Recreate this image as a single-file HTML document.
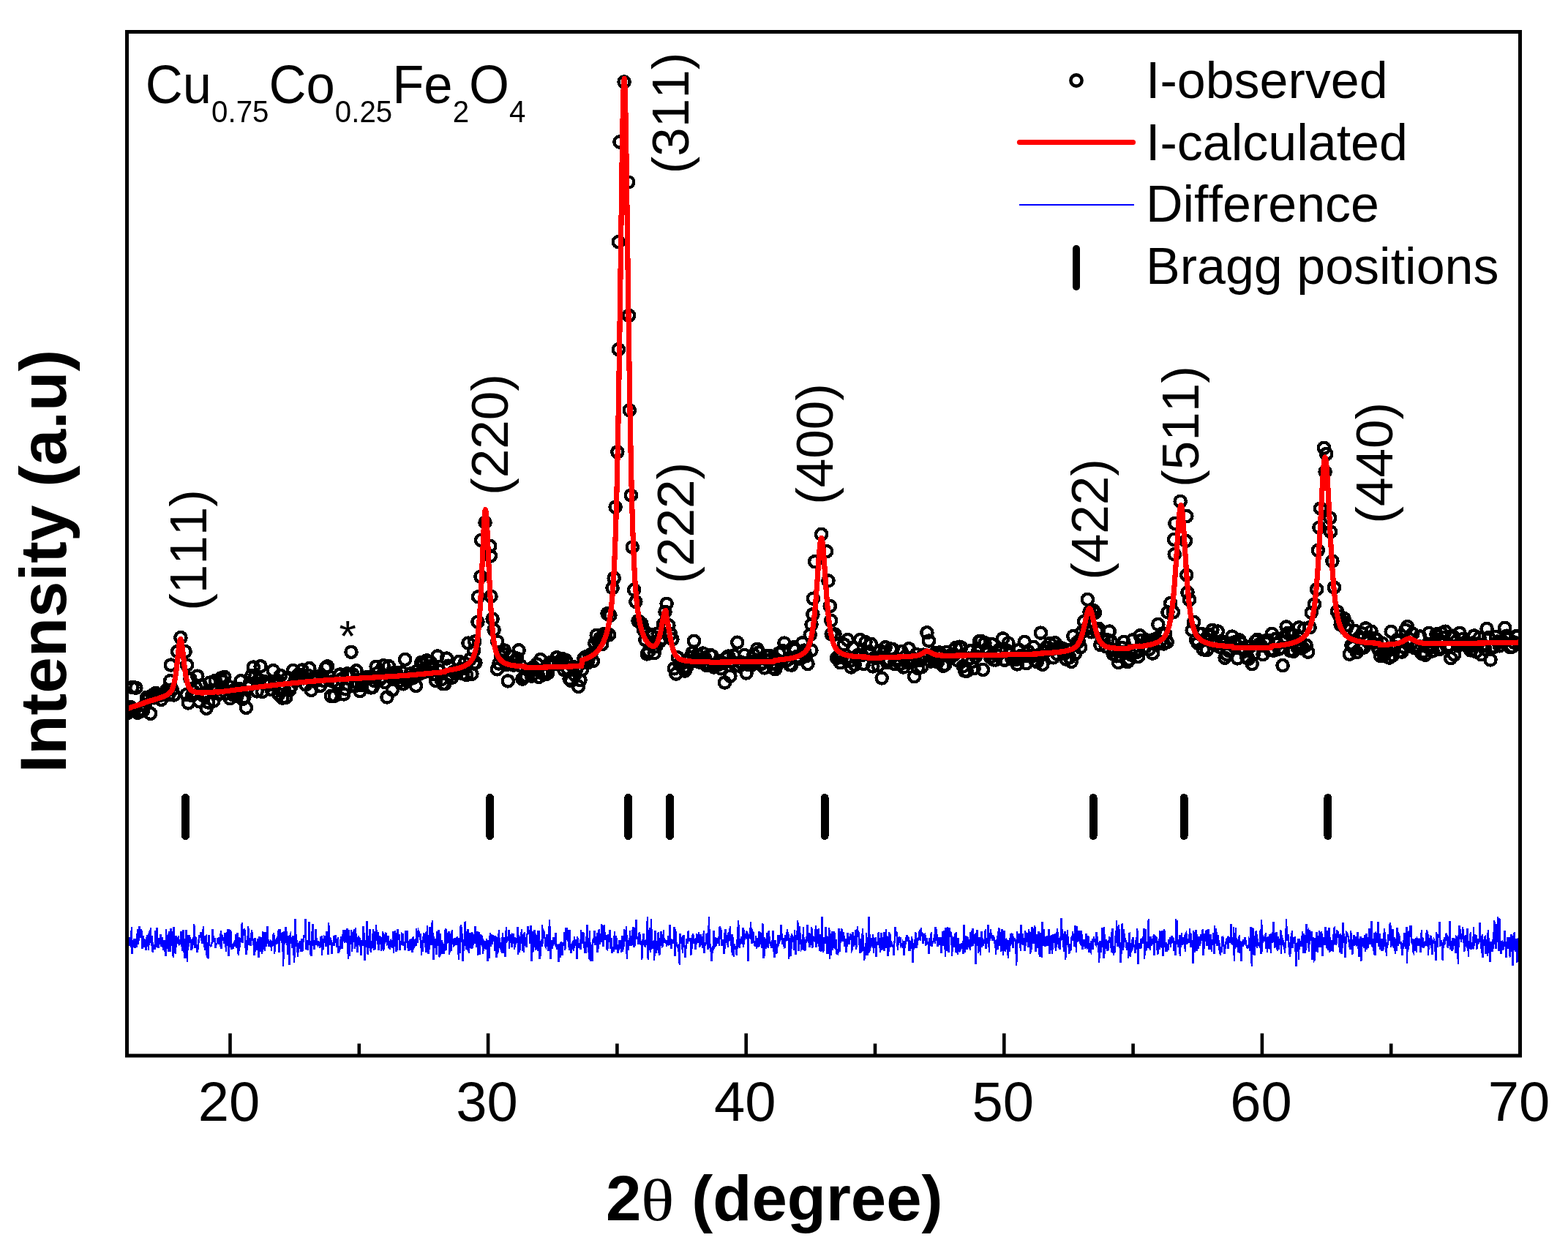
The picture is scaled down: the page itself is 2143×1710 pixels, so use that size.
<!DOCTYPE html>
<html><head><meta charset="utf-8"><title>XRD Rietveld refinement</title>
<style>
html,body{margin:0;padding:0;background:#fff;}
body{width:2143px;height:1710px;overflow:hidden;}
svg{display:block;}
text{font-family:"Liberation Sans",sans-serif;fill:#000;font-kerning:none;font-feature-settings:"kern" 0;}
</style></head><body>
<svg width="2143" height="1710" viewBox="0 0 2143 1710">
<defs><clipPath id="pa"><rect x="173.5" y="43.5" width="1904" height="1399.5"/></clipPath></defs>
<rect width="2143" height="1710" fill="#fff"/>
<g clip-path="url(#pa)" shape-rendering="crispEdges">
<g fill="none" stroke="#000" stroke-width="4.4"><circle cx="173.5" cy="975.2" r="7.6"/><circle cx="176" cy="970.5" r="7.6"/><circle cx="178.4" cy="966.4" r="7.6"/><circle cx="180.9" cy="939.6" r="7.6"/><circle cx="183.4" cy="970.4" r="7.6"/><circle cx="185.8" cy="940.2" r="7.6"/><circle cx="188.3" cy="974.3" r="7.6"/><circle cx="190.8" cy="970" r="7.6"/><circle cx="193.2" cy="971.9" r="7.6"/><circle cx="195.7" cy="971.1" r="7.6"/><circle cx="198.2" cy="963.6" r="7.6"/><circle cx="200.6" cy="953.3" r="7.6"/><circle cx="203.1" cy="955.1" r="7.6"/><circle cx="205.6" cy="975.3" r="7.6"/><circle cx="208.1" cy="950.5" r="7.6"/><circle cx="210.5" cy="953.8" r="7.6"/><circle cx="213" cy="947.4" r="7.6"/><circle cx="215.5" cy="949" r="7.6"/><circle cx="217.9" cy="950.7" r="7.6"/><circle cx="220.4" cy="956.3" r="7.6"/><circle cx="222.9" cy="949.1" r="7.6"/><circle cx="225.3" cy="947.3" r="7.6"/><circle cx="227.8" cy="943.1" r="7.6"/><circle cx="230.3" cy="949.5" r="7.6"/><circle cx="232.7" cy="930.7" r="7.6"/><circle cx="233.4" cy="909" r="7.6"/><circle cx="235.2" cy="942.8" r="7.6"/><circle cx="237.7" cy="950" r="7.6"/><circle cx="242.6" cy="890.6" r="7.6"/><circle cx="246.9" cy="871.6" r="7.6"/><circle cx="253.1" cy="890.6" r="7.6"/><circle cx="254.9" cy="949.5" r="7.6"/><circle cx="255.5" cy="909" r="7.6"/><circle cx="257.4" cy="960.9" r="7.6"/><circle cx="259.9" cy="927.9" r="7.6"/><circle cx="262.4" cy="950.7" r="7.6"/><circle cx="264.8" cy="945.4" r="7.6"/><circle cx="267.3" cy="939.4" r="7.6"/><circle cx="269.8" cy="924.2" r="7.6"/><circle cx="272.2" cy="958.6" r="7.6"/><circle cx="274.7" cy="937" r="7.6"/><circle cx="277.2" cy="950.3" r="7.6"/><circle cx="279.6" cy="947.8" r="7.6"/><circle cx="282.1" cy="968.3" r="7.6"/><circle cx="284.6" cy="960.1" r="7.6"/><circle cx="287" cy="933.1" r="7.6"/><circle cx="289.5" cy="943.2" r="7.6"/><circle cx="292" cy="958" r="7.6"/><circle cx="294.4" cy="930.5" r="7.6"/><circle cx="296.9" cy="941.7" r="7.6"/><circle cx="299.4" cy="948.5" r="7.6"/><circle cx="301.8" cy="927" r="7.6"/><circle cx="304.3" cy="931.1" r="7.6"/><circle cx="306.8" cy="925.4" r="7.6"/><circle cx="309.2" cy="948" r="7.6"/><circle cx="311.7" cy="937.9" r="7.6"/><circle cx="314.2" cy="954.7" r="7.6"/><circle cx="316.7" cy="945" r="7.6"/><circle cx="319.1" cy="950" r="7.6"/><circle cx="321.6" cy="942.1" r="7.6"/><circle cx="324.1" cy="951.4" r="7.6"/><circle cx="326.5" cy="941.3" r="7.6"/><circle cx="329" cy="930.8" r="7.6"/><circle cx="331.5" cy="955.4" r="7.6"/><circle cx="333.9" cy="952.8" r="7.6"/><circle cx="336.4" cy="967.3" r="7.6"/><circle cx="338.9" cy="939.3" r="7.6"/><circle cx="341.3" cy="933.9" r="7.6"/><circle cx="343.8" cy="923.6" r="7.6"/><circle cx="346.3" cy="912" r="7.6"/><circle cx="348.7" cy="924.6" r="7.6"/><circle cx="351.2" cy="944.9" r="7.6"/><circle cx="353.7" cy="928.9" r="7.6"/><circle cx="356.1" cy="910.7" r="7.6"/><circle cx="358.6" cy="945.4" r="7.6"/><circle cx="361.1" cy="931.3" r="7.6"/><circle cx="363.5" cy="933.7" r="7.6"/><circle cx="366" cy="932.6" r="7.6"/><circle cx="368.5" cy="935.7" r="7.6"/><circle cx="371" cy="942.4" r="7.6"/><circle cx="373.4" cy="916.7" r="7.6"/><circle cx="375.9" cy="933.8" r="7.6"/><circle cx="378.4" cy="930.3" r="7.6"/><circle cx="380.8" cy="948.9" r="7.6"/><circle cx="383.3" cy="923.6" r="7.6"/><circle cx="385.8" cy="954.1" r="7.6"/><circle cx="388.2" cy="942" r="7.6"/><circle cx="390.7" cy="953.4" r="7.6"/><circle cx="393.2" cy="926.4" r="7.6"/><circle cx="395.6" cy="943.5" r="7.6"/><circle cx="398.1" cy="938.1" r="7.6"/><circle cx="400.6" cy="916.5" r="7.6"/><circle cx="403" cy="930.4" r="7.6"/><circle cx="405.5" cy="928" r="7.6"/><circle cx="408" cy="921.9" r="7.6"/><circle cx="410.4" cy="923.9" r="7.6"/><circle cx="412.9" cy="915.9" r="7.6"/><circle cx="415.4" cy="926.9" r="7.6"/><circle cx="417.8" cy="935.9" r="7.6"/><circle cx="420.3" cy="922.9" r="7.6"/><circle cx="422.8" cy="913.6" r="7.6"/><circle cx="425.3" cy="943.4" r="7.6"/><circle cx="427.7" cy="926.9" r="7.6"/><circle cx="430.2" cy="931.3" r="7.6"/><circle cx="432.7" cy="928.1" r="7.6"/><circle cx="435.1" cy="924.4" r="7.6"/><circle cx="437.6" cy="937.3" r="7.6"/><circle cx="440.1" cy="924.1" r="7.6"/><circle cx="442.5" cy="930.4" r="7.6"/><circle cx="445" cy="913.3" r="7.6"/><circle cx="447.5" cy="910.9" r="7.6"/><circle cx="449.9" cy="925.1" r="7.6"/><circle cx="452.4" cy="951.3" r="7.6"/><circle cx="454.9" cy="931.3" r="7.6"/><circle cx="457.3" cy="951.3" r="7.6"/><circle cx="459.8" cy="934.1" r="7.6"/><circle cx="462.3" cy="934" r="7.6"/><circle cx="464.7" cy="921.9" r="7.6"/><circle cx="467.2" cy="928.2" r="7.6"/><circle cx="469.7" cy="948.9" r="7.6"/><circle cx="472.1" cy="941.8" r="7.6"/><circle cx="474.6" cy="920.8" r="7.6"/><circle cx="477.1" cy="922.5" r="7.6"/><circle cx="480" cy="891.3" r="7.6"/><circle cx="482" cy="921.7" r="7.6"/><circle cx="484.5" cy="938" r="7.6"/><circle cx="487" cy="916.8" r="7.6"/><circle cx="489.4" cy="934.4" r="7.6"/><circle cx="491.9" cy="944.6" r="7.6"/><circle cx="494.4" cy="936.5" r="7.6"/><circle cx="496.8" cy="929.6" r="7.6"/><circle cx="499.3" cy="928.2" r="7.6"/><circle cx="501.8" cy="925.5" r="7.6"/><circle cx="504.2" cy="926.1" r="7.6"/><circle cx="506.7" cy="939.8" r="7.6"/><circle cx="509.2" cy="939.4" r="7.6"/><circle cx="511.6" cy="930.6" r="7.6"/><circle cx="514.1" cy="911.3" r="7.6"/><circle cx="516.6" cy="919.7" r="7.6"/><circle cx="519" cy="928.9" r="7.6"/><circle cx="521.5" cy="926" r="7.6"/><circle cx="524" cy="909.7" r="7.6"/><circle cx="526.4" cy="932.7" r="7.6"/><circle cx="528.9" cy="952.9" r="7.6"/><circle cx="531.4" cy="910.7" r="7.6"/><circle cx="533.8" cy="925.4" r="7.6"/><circle cx="536.3" cy="943.1" r="7.6"/><circle cx="538.8" cy="919.5" r="7.6"/><circle cx="541.3" cy="919.5" r="7.6"/><circle cx="543.7" cy="926" r="7.6"/><circle cx="546.2" cy="930.4" r="7.6"/><circle cx="548.7" cy="918.9" r="7.6"/><circle cx="551.1" cy="934.8" r="7.6"/><circle cx="553.6" cy="901.4" r="7.6"/><circle cx="556.1" cy="930.7" r="7.6"/><circle cx="558.5" cy="927.2" r="7.6"/><circle cx="561" cy="920.9" r="7.6"/><circle cx="563.5" cy="927" r="7.6"/><circle cx="565.9" cy="922.9" r="7.6"/><circle cx="568.4" cy="937.4" r="7.6"/><circle cx="570.9" cy="916.6" r="7.6"/><circle cx="573.3" cy="921.2" r="7.6"/><circle cx="575.8" cy="905.5" r="7.6"/><circle cx="578.3" cy="908.3" r="7.6"/><circle cx="580.7" cy="918.2" r="7.6"/><circle cx="583.2" cy="902.8" r="7.6"/><circle cx="585.7" cy="910.8" r="7.6"/><circle cx="588.1" cy="905" r="7.6"/><circle cx="590.6" cy="914.4" r="7.6"/><circle cx="593.1" cy="921.2" r="7.6"/><circle cx="595.6" cy="930.4" r="7.6"/><circle cx="598" cy="897" r="7.6"/><circle cx="600.5" cy="916.9" r="7.6"/><circle cx="603" cy="928.9" r="7.6"/><circle cx="605.4" cy="934.6" r="7.6"/><circle cx="607.9" cy="934.7" r="7.6"/><circle cx="610.4" cy="900" r="7.6"/><circle cx="612.8" cy="910.2" r="7.6"/><circle cx="615.3" cy="922.2" r="7.6"/><circle cx="617.8" cy="926.1" r="7.6"/><circle cx="620.2" cy="918.1" r="7.6"/><circle cx="622.7" cy="917.4" r="7.6"/><circle cx="625.2" cy="916.5" r="7.6"/><circle cx="627.6" cy="904.3" r="7.6"/><circle cx="630.1" cy="914.2" r="7.6"/><circle cx="632.6" cy="920.7" r="7.6"/><circle cx="635" cy="906.4" r="7.6"/><circle cx="637.5" cy="922.4" r="7.6"/><circle cx="640" cy="879.1" r="7.6"/><circle cx="642.4" cy="901.1" r="7.6"/><circle cx="644.9" cy="921.2" r="7.6"/><circle cx="647.4" cy="907" r="7.6"/><circle cx="647.5" cy="889.2" r="7.6"/><circle cx="648.8" cy="877" r="7.6"/><circle cx="649.9" cy="905.9" r="7.6"/><circle cx="652.9" cy="850.2" r="7.6"/><circle cx="653.6" cy="815.8" r="7.6"/><circle cx="656.9" cy="788.3" r="7.6"/><circle cx="657.6" cy="738.5" r="7.6"/><circle cx="663" cy="714.2" r="7.6"/><circle cx="669.7" cy="746.5" r="7.6"/><circle cx="670.4" cy="760" r="7.6"/><circle cx="671" cy="815.2" r="7.6"/><circle cx="673.1" cy="846.1" r="7.6"/><circle cx="675.1" cy="861" r="7.6"/><circle cx="679.5" cy="914.7" r="7.6"/><circle cx="679.8" cy="877" r="7.6"/><circle cx="681.9" cy="907" r="7.6"/><circle cx="684.4" cy="897.1" r="7.6"/><circle cx="686.9" cy="893.2" r="7.6"/><circle cx="689.3" cy="888.9" r="7.6"/><circle cx="691.8" cy="908.7" r="7.6"/><circle cx="694.3" cy="930.9" r="7.6"/><circle cx="696.7" cy="907" r="7.6"/><circle cx="699.2" cy="897.5" r="7.6"/><circle cx="701.7" cy="909.1" r="7.6"/><circle cx="704.2" cy="904.2" r="7.6"/><circle cx="706.6" cy="900" r="7.6"/><circle cx="709.1" cy="888.8" r="7.6"/><circle cx="711.6" cy="910.1" r="7.6"/><circle cx="714" cy="928" r="7.6"/><circle cx="716.5" cy="925.1" r="7.6"/><circle cx="719" cy="924.2" r="7.6"/><circle cx="721.4" cy="915.2" r="7.6"/><circle cx="723.9" cy="918.1" r="7.6"/><circle cx="726.4" cy="924.2" r="7.6"/><circle cx="728.8" cy="911.9" r="7.6"/><circle cx="731.3" cy="915.7" r="7.6"/><circle cx="733.8" cy="907.8" r="7.6"/><circle cx="736.2" cy="925.4" r="7.6"/><circle cx="738.7" cy="901.6" r="7.6"/><circle cx="741.2" cy="920" r="7.6"/><circle cx="743.6" cy="922" r="7.6"/><circle cx="746.1" cy="921.7" r="7.6"/><circle cx="748.6" cy="920.2" r="7.6"/><circle cx="751" cy="906.6" r="7.6"/><circle cx="753.5" cy="905.4" r="7.6"/><circle cx="756" cy="907" r="7.6"/><circle cx="758.5" cy="907.4" r="7.6"/><circle cx="760.9" cy="898.7" r="7.6"/><circle cx="763.4" cy="906.4" r="7.6"/><circle cx="765.9" cy="904.2" r="7.6"/><circle cx="768.3" cy="900.5" r="7.6"/><circle cx="770.8" cy="915.5" r="7.6"/><circle cx="773.3" cy="902.6" r="7.6"/><circle cx="775.7" cy="914.1" r="7.6"/><circle cx="778.2" cy="928.1" r="7.6"/><circle cx="780.7" cy="930.5" r="7.6"/><circle cx="783.1" cy="911.3" r="7.6"/><circle cx="785.6" cy="922.7" r="7.6"/><circle cx="788.1" cy="913.8" r="7.6"/><circle cx="790.5" cy="938.4" r="7.6"/><circle cx="793" cy="929.7" r="7.6"/><circle cx="795.5" cy="915.4" r="7.6"/><circle cx="797.9" cy="899.9" r="7.6"/><circle cx="800.4" cy="897.9" r="7.6"/><circle cx="802.9" cy="906.1" r="7.6"/><circle cx="805.3" cy="898.2" r="7.6"/><circle cx="807.8" cy="894.4" r="7.6"/><circle cx="810.3" cy="903.6" r="7.6"/><circle cx="812.8" cy="879.3" r="7.6"/><circle cx="815.2" cy="868.4" r="7.6"/><circle cx="817.7" cy="877.1" r="7.6"/><circle cx="820.2" cy="872.3" r="7.6"/><circle cx="822.6" cy="880.7" r="7.6"/><circle cx="825.1" cy="866.7" r="7.6"/><circle cx="827.6" cy="868.1" r="7.6"/><circle cx="830" cy="838.7" r="7.6"/><circle cx="832.5" cy="867.7" r="7.6"/><circle cx="833.9" cy="841.3" r="7.6"/><circle cx="837.1" cy="803.6" r="7.6"/><circle cx="839.2" cy="790.2" r="7.6"/><circle cx="841.1" cy="693.2" r="7.6"/><circle cx="843.8" cy="617.8" r="7.6"/><circle cx="845.3" cy="330.6" r="7.6"/><circle cx="845.4" cy="477.7" r="7.6"/><circle cx="847" cy="194" r="7.6"/><circle cx="853.1" cy="112" r="7.6"/><circle cx="858.8" cy="249" r="7.6"/><circle cx="859.5" cy="431.3" r="7.6"/><circle cx="860.3" cy="560.7" r="7.6"/><circle cx="862.4" cy="677" r="7.6"/><circle cx="864.3" cy="747.9" r="7.6"/><circle cx="866.7" cy="806.3" r="7.6"/><circle cx="868.9" cy="822.5" r="7.6"/><circle cx="872" cy="848.7" r="7.6"/><circle cx="874.5" cy="850.6" r="7.6"/><circle cx="876.9" cy="852.6" r="7.6"/><circle cx="879.4" cy="860.9" r="7.6"/><circle cx="881.9" cy="874.6" r="7.6"/><circle cx="884.3" cy="893.9" r="7.6"/><circle cx="886.8" cy="890.2" r="7.6"/><circle cx="889.3" cy="867.4" r="7.6"/><circle cx="891.7" cy="869.3" r="7.6"/><circle cx="894.2" cy="892.7" r="7.6"/><circle cx="896.7" cy="883.6" r="7.6"/><circle cx="899.1" cy="866" r="7.6"/><circle cx="901.6" cy="876.8" r="7.6"/><circle cx="904.1" cy="873.1" r="7.6"/><circle cx="906.5" cy="853.1" r="7.6"/><circle cx="909" cy="836.3" r="7.6"/><circle cx="911.1" cy="825.3" r="7.6"/><circle cx="913.9" cy="854.8" r="7.6"/><circle cx="916.4" cy="866.4" r="7.6"/><circle cx="918.9" cy="873.7" r="7.6"/><circle cx="921.3" cy="913.8" r="7.6"/><circle cx="923.8" cy="921.1" r="7.6"/><circle cx="926.3" cy="898.8" r="7.6"/><circle cx="928.8" cy="907.8" r="7.6"/><circle cx="931.2" cy="907.2" r="7.6"/><circle cx="933.7" cy="913.6" r="7.6"/><circle cx="936.2" cy="917.1" r="7.6"/><circle cx="938.6" cy="911.5" r="7.6"/><circle cx="941.1" cy="902.9" r="7.6"/><circle cx="943.6" cy="898.2" r="7.6"/><circle cx="946" cy="892.6" r="7.6"/><circle cx="948.5" cy="876.3" r="7.6"/><circle cx="951" cy="903.5" r="7.6"/><circle cx="953.4" cy="895.1" r="7.6"/><circle cx="955.9" cy="905.1" r="7.6"/><circle cx="958.4" cy="903.6" r="7.6"/><circle cx="960.8" cy="893" r="7.6"/><circle cx="963.3" cy="899.1" r="7.6"/><circle cx="965.8" cy="909.7" r="7.6"/><circle cx="968.2" cy="906.9" r="7.6"/><circle cx="970.7" cy="895.3" r="7.6"/><circle cx="973.2" cy="896.7" r="7.6"/><circle cx="975.6" cy="912" r="7.6"/><circle cx="978.1" cy="908.1" r="7.6"/><circle cx="980.6" cy="908.9" r="7.6"/><circle cx="983.1" cy="903.4" r="7.6"/><circle cx="985.5" cy="913.8" r="7.6"/><circle cx="988" cy="906.3" r="7.6"/><circle cx="990.5" cy="933" r="7.6"/><circle cx="992.9" cy="899.7" r="7.6"/><circle cx="995.4" cy="897" r="7.6"/><circle cx="997.9" cy="924.2" r="7.6"/><circle cx="1000.3" cy="904.2" r="7.6"/><circle cx="1002.8" cy="896" r="7.6"/><circle cx="1005.3" cy="910" r="7.6"/><circle cx="1007.7" cy="878.2" r="7.6"/><circle cx="1010.2" cy="910.1" r="7.6"/><circle cx="1012.7" cy="905.1" r="7.6"/><circle cx="1015.1" cy="907.9" r="7.6"/><circle cx="1017.6" cy="895.5" r="7.6"/><circle cx="1020.1" cy="919.9" r="7.6"/><circle cx="1022.5" cy="908.4" r="7.6"/><circle cx="1025" cy="904.5" r="7.6"/><circle cx="1027.5" cy="908.9" r="7.6"/><circle cx="1029.9" cy="895" r="7.6"/><circle cx="1032.4" cy="903.1" r="7.6"/><circle cx="1034.9" cy="887.3" r="7.6"/><circle cx="1037.4" cy="891.8" r="7.6"/><circle cx="1039.8" cy="907.9" r="7.6"/><circle cx="1042.3" cy="905.8" r="7.6"/><circle cx="1044.8" cy="912.9" r="7.6"/><circle cx="1047.2" cy="896.7" r="7.6"/><circle cx="1049.7" cy="903" r="7.6"/><circle cx="1052.2" cy="896.3" r="7.6"/><circle cx="1054.6" cy="907.1" r="7.6"/><circle cx="1057.1" cy="913.1" r="7.6"/><circle cx="1059.6" cy="914.7" r="7.6"/><circle cx="1062" cy="908.8" r="7.6"/><circle cx="1064.5" cy="892.9" r="7.6"/><circle cx="1067" cy="904.2" r="7.6"/><circle cx="1069.4" cy="889.6" r="7.6"/><circle cx="1071.9" cy="879.1" r="7.6"/><circle cx="1074.4" cy="902.9" r="7.6"/><circle cx="1076.8" cy="901.5" r="7.6"/><circle cx="1079.3" cy="908.6" r="7.6"/><circle cx="1081.8" cy="909.1" r="7.6"/><circle cx="1084.2" cy="884.8" r="7.6"/><circle cx="1086.7" cy="887.9" r="7.6"/><circle cx="1089.2" cy="897.5" r="7.6"/><circle cx="1091.7" cy="897.4" r="7.6"/><circle cx="1094.1" cy="900.1" r="7.6"/><circle cx="1096.6" cy="878.9" r="7.6"/><circle cx="1099.1" cy="889.1" r="7.6"/><circle cx="1101.5" cy="896.8" r="7.6"/><circle cx="1104" cy="907.4" r="7.6"/><circle cx="1107.2" cy="867.8" r="7.6"/><circle cx="1108.9" cy="889" r="7.6"/><circle cx="1109" cy="853.8" r="7.6"/><circle cx="1110.9" cy="839.7" r="7.6"/><circle cx="1111.4" cy="818.2" r="7.6"/><circle cx="1113.7" cy="767.7" r="7.6"/><circle cx="1122.6" cy="730.3" r="7.6"/><circle cx="1129.6" cy="753.7" r="7.6"/><circle cx="1132" cy="793.9" r="7.6"/><circle cx="1134.3" cy="828.5" r="7.6"/><circle cx="1135.7" cy="848.2" r="7.6"/><circle cx="1136.2" cy="866.9" r="7.6"/><circle cx="1141" cy="867" r="7.6"/><circle cx="1143.5" cy="899.6" r="7.6"/><circle cx="1146" cy="897.1" r="7.6"/><circle cx="1148.4" cy="905.7" r="7.6"/><circle cx="1150.9" cy="897.7" r="7.6"/><circle cx="1153.4" cy="880.9" r="7.6"/><circle cx="1155.8" cy="900.2" r="7.6"/><circle cx="1158.3" cy="874.6" r="7.6"/><circle cx="1160.8" cy="903.9" r="7.6"/><circle cx="1163.2" cy="912" r="7.6"/><circle cx="1165.7" cy="885.1" r="7.6"/><circle cx="1168.2" cy="908.7" r="7.6"/><circle cx="1170.6" cy="897.5" r="7.6"/><circle cx="1173.1" cy="895.3" r="7.6"/><circle cx="1175.6" cy="874.6" r="7.6"/><circle cx="1178" cy="895.6" r="7.6"/><circle cx="1180.5" cy="907.4" r="7.6"/><circle cx="1183" cy="877.8" r="7.6"/><circle cx="1185.4" cy="892" r="7.6"/><circle cx="1187.9" cy="891" r="7.6"/><circle cx="1190.4" cy="880.3" r="7.6"/><circle cx="1192.8" cy="910.9" r="7.6"/><circle cx="1195.3" cy="899" r="7.6"/><circle cx="1197.8" cy="899.2" r="7.6"/><circle cx="1200.2" cy="909.9" r="7.6"/><circle cx="1202.7" cy="889.8" r="7.6"/><circle cx="1205.2" cy="926.9" r="7.6"/><circle cx="1207.7" cy="893" r="7.6"/><circle cx="1210.1" cy="884.8" r="7.6"/><circle cx="1212.6" cy="905.4" r="7.6"/><circle cx="1215.1" cy="902.4" r="7.6"/><circle cx="1217.5" cy="887" r="7.6"/><circle cx="1220" cy="887.5" r="7.6"/><circle cx="1222.5" cy="907.4" r="7.6"/><circle cx="1224.9" cy="901.2" r="7.6"/><circle cx="1227.4" cy="902.5" r="7.6"/><circle cx="1229.9" cy="907.7" r="7.6"/><circle cx="1232.3" cy="890.7" r="7.6"/><circle cx="1234.8" cy="912" r="7.6"/><circle cx="1237.3" cy="897.8" r="7.6"/><circle cx="1239.7" cy="905.6" r="7.6"/><circle cx="1242.2" cy="886.7" r="7.6"/><circle cx="1244.7" cy="905.7" r="7.6"/><circle cx="1247.1" cy="900.1" r="7.6"/><circle cx="1249.6" cy="924.7" r="7.6"/><circle cx="1252.1" cy="894.6" r="7.6"/><circle cx="1254.5" cy="913.4" r="7.6"/><circle cx="1257" cy="902.3" r="7.6"/><circle cx="1259.5" cy="911.9" r="7.6"/><circle cx="1262" cy="895.1" r="7.6"/><circle cx="1264.4" cy="896.4" r="7.6"/><circle cx="1266.9" cy="864.7" r="7.6"/><circle cx="1269.4" cy="876" r="7.6"/><circle cx="1271.8" cy="904.1" r="7.6"/><circle cx="1274.3" cy="898.3" r="7.6"/><circle cx="1276.8" cy="903.4" r="7.6"/><circle cx="1279.2" cy="892.3" r="7.6"/><circle cx="1281.7" cy="904.8" r="7.6"/><circle cx="1284.2" cy="891.9" r="7.6"/><circle cx="1286.6" cy="895.5" r="7.6"/><circle cx="1289.1" cy="910.2" r="7.6"/><circle cx="1291.6" cy="908.7" r="7.6"/><circle cx="1294" cy="891.3" r="7.6"/><circle cx="1296.5" cy="896.9" r="7.6"/><circle cx="1299" cy="899" r="7.6"/><circle cx="1301.4" cy="894.7" r="7.6"/><circle cx="1303.9" cy="895.1" r="7.6"/><circle cx="1306.4" cy="885.4" r="7.6"/><circle cx="1308.8" cy="902.7" r="7.6"/><circle cx="1311.3" cy="884.2" r="7.6"/><circle cx="1313.8" cy="885.1" r="7.6"/><circle cx="1316.3" cy="910.7" r="7.6"/><circle cx="1318.7" cy="917.1" r="7.6"/><circle cx="1321.2" cy="917.2" r="7.6"/><circle cx="1323.7" cy="900.1" r="7.6"/><circle cx="1326.1" cy="889.8" r="7.6"/><circle cx="1328.6" cy="904.4" r="7.6"/><circle cx="1331.1" cy="913.7" r="7.6"/><circle cx="1333.5" cy="897.3" r="7.6"/><circle cx="1336" cy="891.2" r="7.6"/><circle cx="1338.5" cy="876.7" r="7.6"/><circle cx="1340.9" cy="876.4" r="7.6"/><circle cx="1343.4" cy="915.4" r="7.6"/><circle cx="1345.9" cy="878.8" r="7.6"/><circle cx="1348.3" cy="887.9" r="7.6"/><circle cx="1350.8" cy="892.1" r="7.6"/><circle cx="1353.3" cy="898.3" r="7.6"/><circle cx="1355.7" cy="880.6" r="7.6"/><circle cx="1358.2" cy="901.9" r="7.6"/><circle cx="1360.7" cy="901.9" r="7.6"/><circle cx="1363.1" cy="896.1" r="7.6"/><circle cx="1365.6" cy="888.1" r="7.6"/><circle cx="1368.1" cy="890.9" r="7.6"/><circle cx="1370.6" cy="872.9" r="7.6"/><circle cx="1373" cy="902.2" r="7.6"/><circle cx="1375.5" cy="888.9" r="7.6"/><circle cx="1378" cy="879.2" r="7.6"/><circle cx="1380.4" cy="894.4" r="7.6"/><circle cx="1382.9" cy="900.4" r="7.6"/><circle cx="1385.4" cy="898.7" r="7.6"/><circle cx="1387.8" cy="901.7" r="7.6"/><circle cx="1390.3" cy="907.9" r="7.6"/><circle cx="1392.8" cy="888.4" r="7.6"/><circle cx="1395.2" cy="896.5" r="7.6"/><circle cx="1397.7" cy="897.2" r="7.6"/><circle cx="1400.2" cy="877.5" r="7.6"/><circle cx="1402.6" cy="906.6" r="7.6"/><circle cx="1405.1" cy="890.3" r="7.6"/><circle cx="1407.6" cy="896.8" r="7.6"/><circle cx="1410" cy="897.3" r="7.6"/><circle cx="1412.5" cy="884.4" r="7.6"/><circle cx="1415" cy="903.1" r="7.6"/><circle cx="1417.4" cy="904.8" r="7.6"/><circle cx="1419.9" cy="895.2" r="7.6"/><circle cx="1422.4" cy="865.1" r="7.6"/><circle cx="1424.9" cy="908.3" r="7.6"/><circle cx="1427.3" cy="890.8" r="7.6"/><circle cx="1429.8" cy="885" r="7.6"/><circle cx="1432.3" cy="885.5" r="7.6"/><circle cx="1434.7" cy="879.6" r="7.6"/><circle cx="1437.2" cy="887.7" r="7.6"/><circle cx="1439.7" cy="898.8" r="7.6"/><circle cx="1442.1" cy="878.8" r="7.6"/><circle cx="1444.6" cy="893.7" r="7.6"/><circle cx="1447.1" cy="884.2" r="7.6"/><circle cx="1449.5" cy="887.7" r="7.6"/><circle cx="1452" cy="886.1" r="7.6"/><circle cx="1454.5" cy="893.4" r="7.6"/><circle cx="1456.9" cy="901.1" r="7.6"/><circle cx="1459.4" cy="888.7" r="7.6"/><circle cx="1461.9" cy="898.5" r="7.6"/><circle cx="1464.3" cy="904.4" r="7.6"/><circle cx="1466.8" cy="869.6" r="7.6"/><circle cx="1469.3" cy="893.6" r="7.6"/><circle cx="1471.7" cy="878.8" r="7.6"/><circle cx="1474.2" cy="876.6" r="7.6"/><circle cx="1476.7" cy="884.8" r="7.6"/><circle cx="1479.2" cy="863.6" r="7.6"/><circle cx="1481.6" cy="849.6" r="7.6"/><circle cx="1484.1" cy="860.2" r="7.6"/><circle cx="1486.4" cy="819.4" r="7.6"/><circle cx="1489" cy="836.4" r="7.6"/><circle cx="1491.5" cy="863.8" r="7.6"/><circle cx="1494" cy="834.1" r="7.6"/><circle cx="1496.4" cy="837.5" r="7.6"/><circle cx="1498.9" cy="862.9" r="7.6"/><circle cx="1501.4" cy="859.3" r="7.6"/><circle cx="1503.8" cy="881.4" r="7.6"/><circle cx="1506.3" cy="873.5" r="7.6"/><circle cx="1508.8" cy="875.4" r="7.6"/><circle cx="1511.2" cy="883.7" r="7.6"/><circle cx="1513.7" cy="874.8" r="7.6"/><circle cx="1516.2" cy="863" r="7.6"/><circle cx="1518.6" cy="877.1" r="7.6"/><circle cx="1521.1" cy="893.8" r="7.6"/><circle cx="1523.6" cy="888.7" r="7.6"/><circle cx="1526" cy="896.8" r="7.6"/><circle cx="1528.5" cy="905.5" r="7.6"/><circle cx="1531" cy="896.3" r="7.6"/><circle cx="1533.4" cy="885.6" r="7.6"/><circle cx="1535.9" cy="877.6" r="7.6"/><circle cx="1538.4" cy="891.5" r="7.6"/><circle cx="1540.9" cy="904.6" r="7.6"/><circle cx="1543.3" cy="901.6" r="7.6"/><circle cx="1545.8" cy="895" r="7.6"/><circle cx="1548.3" cy="874.8" r="7.6"/><circle cx="1550.7" cy="890.5" r="7.6"/><circle cx="1553.2" cy="891.7" r="7.6"/><circle cx="1555.7" cy="897.4" r="7.6"/><circle cx="1558.1" cy="868.8" r="7.6"/><circle cx="1560.6" cy="875.3" r="7.6"/><circle cx="1563.1" cy="884.5" r="7.6"/><circle cx="1565.5" cy="884" r="7.6"/><circle cx="1568" cy="875.1" r="7.6"/><circle cx="1570.5" cy="887.3" r="7.6"/><circle cx="1572.9" cy="877.6" r="7.6"/><circle cx="1575.4" cy="893.1" r="7.6"/><circle cx="1577.9" cy="874" r="7.6"/><circle cx="1580.3" cy="880.9" r="7.6"/><circle cx="1582.8" cy="853.4" r="7.6"/><circle cx="1585.3" cy="878.4" r="7.6"/><circle cx="1587.7" cy="866.6" r="7.6"/><circle cx="1590.2" cy="880" r="7.6"/><circle cx="1592.7" cy="866.6" r="7.6"/><circle cx="1595.2" cy="877.8" r="7.6"/><circle cx="1596" cy="836.9" r="7.6"/><circle cx="1599.7" cy="824.6" r="7.6"/><circle cx="1603.4" cy="836.9" r="7.6"/><circle cx="1604.6" cy="737.5" r="7.6"/><circle cx="1605.2" cy="757.7" r="7.6"/><circle cx="1605.9" cy="715.4" r="7.6"/><circle cx="1613.2" cy="685.3" r="7.6"/><circle cx="1620.6" cy="739.3" r="7.6"/><circle cx="1621.8" cy="705.6" r="7.6"/><circle cx="1621.8" cy="786" r="7.6"/><circle cx="1623" cy="809.9" r="7.6"/><circle cx="1625.5" cy="819.7" r="7.6"/><circle cx="1629.2" cy="861.4" r="7.6"/><circle cx="1631.6" cy="850.4" r="7.6"/><circle cx="1634.6" cy="874.4" r="7.6"/><circle cx="1637.1" cy="879.2" r="7.6"/><circle cx="1639.6" cy="866.4" r="7.6"/><circle cx="1642" cy="866.6" r="7.6"/><circle cx="1644.5" cy="887.9" r="7.6"/><circle cx="1647" cy="874.4" r="7.6"/><circle cx="1649.5" cy="888.6" r="7.6"/><circle cx="1651.9" cy="867.1" r="7.6"/><circle cx="1654.4" cy="869.1" r="7.6"/><circle cx="1656.9" cy="861.4" r="7.6"/><circle cx="1659.3" cy="881.1" r="7.6"/><circle cx="1661.8" cy="877.2" r="7.6"/><circle cx="1664.3" cy="863" r="7.6"/><circle cx="1666.7" cy="884.3" r="7.6"/><circle cx="1669.2" cy="876.7" r="7.6"/><circle cx="1671.7" cy="880.4" r="7.6"/><circle cx="1674.1" cy="899.2" r="7.6"/><circle cx="1676.6" cy="894.5" r="7.6"/><circle cx="1679.1" cy="889.2" r="7.6"/><circle cx="1681.5" cy="879.9" r="7.6"/><circle cx="1684" cy="870.1" r="7.6"/><circle cx="1686.5" cy="878" r="7.6"/><circle cx="1688.9" cy="881.2" r="7.6"/><circle cx="1691.4" cy="899.9" r="7.6"/><circle cx="1693.9" cy="874.9" r="7.6"/><circle cx="1696.3" cy="879.3" r="7.6"/><circle cx="1698.8" cy="885.4" r="7.6"/><circle cx="1701.3" cy="890" r="7.6"/><circle cx="1703.8" cy="897.9" r="7.6"/><circle cx="1706.2" cy="900.7" r="7.6"/><circle cx="1708.7" cy="883.8" r="7.6"/><circle cx="1711.2" cy="907.6" r="7.6"/><circle cx="1713.6" cy="893.2" r="7.6"/><circle cx="1716.1" cy="876.5" r="7.6"/><circle cx="1718.6" cy="874.3" r="7.6"/><circle cx="1721" cy="880.7" r="7.6"/><circle cx="1723.5" cy="882.6" r="7.6"/><circle cx="1726" cy="894.5" r="7.6"/><circle cx="1728.4" cy="876.1" r="7.6"/><circle cx="1730.9" cy="878.9" r="7.6"/><circle cx="1733.4" cy="875.7" r="7.6"/><circle cx="1735.8" cy="888.5" r="7.6"/><circle cx="1738.3" cy="866.4" r="7.6"/><circle cx="1740.8" cy="889.2" r="7.6"/><circle cx="1743.2" cy="873.6" r="7.6"/><circle cx="1745.7" cy="879.9" r="7.6"/><circle cx="1748.2" cy="887.1" r="7.6"/><circle cx="1750.6" cy="885.3" r="7.6"/><circle cx="1753.1" cy="909.6" r="7.6"/><circle cx="1755.6" cy="870.8" r="7.6"/><circle cx="1758.1" cy="856.9" r="7.6"/><circle cx="1760.5" cy="865.3" r="7.6"/><circle cx="1763" cy="889.3" r="7.6"/><circle cx="1765.5" cy="866.9" r="7.6"/><circle cx="1767.9" cy="890.2" r="7.6"/><circle cx="1770.4" cy="875.1" r="7.6"/><circle cx="1772.9" cy="885.1" r="7.6"/><circle cx="1775.3" cy="857.8" r="7.6"/><circle cx="1777.8" cy="885.8" r="7.6"/><circle cx="1780.3" cy="885.4" r="7.6"/><circle cx="1782.7" cy="859.2" r="7.6"/><circle cx="1785.2" cy="882.1" r="7.6"/><circle cx="1787.7" cy="891.2" r="7.6"/><circle cx="1790.1" cy="857.7" r="7.6"/><circle cx="1792.3" cy="837.4" r="7.6"/><circle cx="1796.4" cy="826" r="7.6"/><circle cx="1799.6" cy="805.5" r="7.6"/><circle cx="1801.3" cy="752.3" r="7.6"/><circle cx="1802.9" cy="721.2" r="7.6"/><circle cx="1804.6" cy="695" r="7.6"/><circle cx="1809.5" cy="612.3" r="7.6"/><circle cx="1811.1" cy="645" r="7.6"/><circle cx="1812.7" cy="620.5" r="7.6"/><circle cx="1817.7" cy="708" r="7.6"/><circle cx="1818.5" cy="726.9" r="7.6"/><circle cx="1820.9" cy="767" r="7.6"/><circle cx="1823.4" cy="803" r="7.6"/><circle cx="1827.5" cy="835.8" r="7.6"/><circle cx="1830.8" cy="842.3" r="7.6"/><circle cx="1832.1" cy="853.9" r="7.6"/><circle cx="1834.6" cy="850.3" r="7.6"/><circle cx="1837" cy="845.5" r="7.6"/><circle cx="1839.5" cy="859.7" r="7.6"/><circle cx="1842" cy="854.5" r="7.6"/><circle cx="1844.4" cy="894.2" r="7.6"/><circle cx="1846.9" cy="882" r="7.6"/><circle cx="1849.4" cy="884.6" r="7.6"/><circle cx="1851.8" cy="862.5" r="7.6"/><circle cx="1854.3" cy="891.7" r="7.6"/><circle cx="1856.8" cy="872.3" r="7.6"/><circle cx="1859.2" cy="886.8" r="7.6"/><circle cx="1861.7" cy="865.8" r="7.6"/><circle cx="1864.2" cy="885" r="7.6"/><circle cx="1866.6" cy="858.9" r="7.6"/><circle cx="1869.1" cy="876.4" r="7.6"/><circle cx="1871.6" cy="875.8" r="7.6"/><circle cx="1874.1" cy="863.1" r="7.6"/><circle cx="1876.5" cy="879.2" r="7.6"/><circle cx="1879" cy="872.5" r="7.6"/><circle cx="1881.5" cy="874.6" r="7.6"/><circle cx="1883.9" cy="887.6" r="7.6"/><circle cx="1886.4" cy="896.4" r="7.6"/><circle cx="1888.9" cy="879.1" r="7.6"/><circle cx="1891.3" cy="896" r="7.6"/><circle cx="1893.8" cy="892.7" r="7.6"/><circle cx="1896.3" cy="889.6" r="7.6"/><circle cx="1898.7" cy="899.1" r="7.6"/><circle cx="1901.2" cy="863.4" r="7.6"/><circle cx="1903.7" cy="895.8" r="7.6"/><circle cx="1906.1" cy="884.5" r="7.6"/><circle cx="1908.6" cy="875.3" r="7.6"/><circle cx="1911.1" cy="877.3" r="7.6"/><circle cx="1913.5" cy="890.1" r="7.6"/><circle cx="1916" cy="891.1" r="7.6"/><circle cx="1918.5" cy="884.3" r="7.6"/><circle cx="1920.9" cy="861.3" r="7.6"/><circle cx="1923.4" cy="856.6" r="7.6"/><circle cx="1925.9" cy="873.4" r="7.6"/><circle cx="1928.4" cy="880.6" r="7.6"/><circle cx="1930.8" cy="866.4" r="7.6"/><circle cx="1933.3" cy="885.8" r="7.6"/><circle cx="1935.8" cy="883.9" r="7.6"/><circle cx="1938.2" cy="883.4" r="7.6"/><circle cx="1940.7" cy="869.9" r="7.6"/><circle cx="1943.2" cy="893.4" r="7.6"/><circle cx="1945.6" cy="890.6" r="7.6"/><circle cx="1948.1" cy="895.2" r="7.6"/><circle cx="1950.6" cy="884.2" r="7.6"/><circle cx="1953" cy="865.4" r="7.6"/><circle cx="1955.5" cy="884.3" r="7.6"/><circle cx="1958" cy="889.9" r="7.6"/><circle cx="1960.4" cy="878.4" r="7.6"/><circle cx="1962.9" cy="866.9" r="7.6"/><circle cx="1965.4" cy="886.4" r="7.6"/><circle cx="1967.8" cy="887.3" r="7.6"/><circle cx="1970.3" cy="865.6" r="7.6"/><circle cx="1972.8" cy="871.6" r="7.6"/><circle cx="1975.2" cy="863.2" r="7.6"/><circle cx="1977.7" cy="883.5" r="7.6"/><circle cx="1980.2" cy="881.8" r="7.6"/><circle cx="1982.7" cy="899.6" r="7.6"/><circle cx="1985.1" cy="869.2" r="7.6"/><circle cx="1987.6" cy="894.9" r="7.6"/><circle cx="1990.1" cy="877" r="7.6"/><circle cx="1992.5" cy="882.6" r="7.6"/><circle cx="1995" cy="865.3" r="7.6"/><circle cx="1997.5" cy="879.7" r="7.6"/><circle cx="1999.9" cy="873.3" r="7.6"/><circle cx="2002.4" cy="878.1" r="7.6"/><circle cx="2004.9" cy="881.5" r="7.6"/><circle cx="2007.3" cy="884.9" r="7.6"/><circle cx="2009.8" cy="888.8" r="7.6"/><circle cx="2012.3" cy="879" r="7.6"/><circle cx="2014.7" cy="868.9" r="7.6"/><circle cx="2017.2" cy="890.9" r="7.6"/><circle cx="2019.7" cy="880" r="7.6"/><circle cx="2022.1" cy="872.1" r="7.6"/><circle cx="2024.6" cy="894.7" r="7.6"/><circle cx="2027.1" cy="882.3" r="7.6"/><circle cx="2029.5" cy="887.2" r="7.6"/><circle cx="2032" cy="859.5" r="7.6"/><circle cx="2034.5" cy="871.7" r="7.6"/><circle cx="2037" cy="901.9" r="7.6"/><circle cx="2039.4" cy="884.5" r="7.6"/><circle cx="2041.9" cy="884.2" r="7.6"/><circle cx="2044.4" cy="870.5" r="7.6"/><circle cx="2046.8" cy="877" r="7.6"/><circle cx="2049.3" cy="882.8" r="7.6"/><circle cx="2051.8" cy="877.6" r="7.6"/><circle cx="2054.2" cy="877.2" r="7.6"/><circle cx="2056.7" cy="858.3" r="7.6"/><circle cx="2059.2" cy="869.2" r="7.6"/><circle cx="2061.6" cy="873.1" r="7.6"/><circle cx="2064.1" cy="884.7" r="7.6"/><circle cx="2066.6" cy="884.1" r="7.6"/><circle cx="2069" cy="878" r="7.6"/><circle cx="2071.5" cy="869.8" r="7.6"/><circle cx="2074" cy="869.7" r="7.6"/><circle cx="2076.4" cy="880.8" r="7.6"/></g>
<polyline fill="none" stroke="#ff0000" stroke-width="7.2" stroke-linejoin="round" stroke-linecap="round" points="173.5,968.8 174.21,968.6 174.91,968.3 175.62,968.1 176.32,967.8 177.03,967.6 177.73,967.3 178.44,967.1 179.14,966.9 179.85,966.6 180.55,966.4 181.26,966.1 181.96,965.9 182.67,965.7 183.37,965.4 184.08,965.2 184.78,965 185.49,964.7 186.19,964.5 186.9,964.3 187.6,964.1 188.31,963.8 189.01,963.6 189.72,963.4 190.42,963.2 191.13,963 191.83,962.7 192.54,962.5 193.25,962.3 193.95,962.1 194.66,961.9 195.36,961.7 196.07,961.5 196.77,961.3 197.48,960.4 198.18,960.2 198.89,960 199.59,959.7 200.3,959.5 201,959.3 201.71,959.1 202.41,958.9 203.12,958.7 203.82,958.5 204.53,958.2 205.23,958 205.94,957.8 206.64,957.6 207.35,957.4 208.05,957.2 208.76,957 209.46,956.8 210.17,956.6 210.87,956.4 211.58,956.1 212.29,955.9 212.99,955.7 213.7,955.5 214.4,955.3 215.11,955.1 215.81,954.9 216.52,954.6 217.22,954.4 217.93,954.2 218.63,953.9 219.34,953.7 220.04,953.5 220.75,953.2 221.45,953 222.16,952.7 222.86,952.4 223.57,952.2 224.27,951.9 224.98,951.6 225.68,951.2 226.39,950.9 227.09,950.5 227.8,950.1 228.5,949.7 229.21,949.3 229.91,948.8 230.62,948.2 231.33,947.6 232.03,946.9 232.74,946.1 233.44,945.2 234.15,944.2 234.85,942.9 235.56,941.4 236.26,939.6 236.97,937.5 237.67,934.9 238.38,931.9 239.08,928.4 239.79,924.2 240.49,919.5 241.2,914.2 241.9,908.3 242.61,902 243.31,895.4 244.02,888.8 244.72,882.8 245.43,877.9 246.13,874.6 246.84,873.5 247.54,874.7 248.25,878 248.95,883 249.66,888.9 250.37,895.3 251.07,901.8 251.78,907.9 252.48,913.6 253.19,918.7 253.89,923.2 254.6,927.1 255.3,930.4 256.01,933.2 256.71,935.5 257.42,937.5 258.12,939.1 258.83,940.4 259.53,941.4 260.24,942.3 260.94,943 261.65,943.7 262.35,944.2 263.06,944.6 263.76,944.9 264.47,945.3 265.17,945.5 265.88,945.8 266.58,945.9 267.29,946.1 267.99,946.3 268.7,946.4 269.41,946.5 270.11,946.6 270.82,946.7 271.52,946.7 272.23,946.8 272.93,946.8 273.64,946.9 274.34,946.9 275.05,946.9 275.75,946.9 276.46,946.9 277.16,946.9 277.87,946.9 278.57,946.9 279.28,946.9 279.98,946.8 280.69,946.8 281.39,946.8 282.1,946.7 282.8,946.7 283.51,946.7 284.21,946.6 284.92,946.6 285.62,946.5 286.33,946.5 287.03,946.4 287.74,946.4 288.45,946.3 289.15,946.3 289.86,946.2 290.56,946.2 291.27,946.1 291.97,946 292.68,946 293.38,945.9 294.09,945.8 294.79,945.8 295.5,945.7 296.2,945.6 296.91,946.2 297.61,946.1 298.32,946 299.02,945.9 299.73,945.9 300.43,945.8 301.14,945.7 301.84,945.6 302.55,945.5 303.25,945.4 303.96,945.3 304.66,945.2 305.37,945.1 306.07,945.1 306.78,945 307.49,944.9 308.19,944.8 308.9,944.7 309.6,944.6 310.31,944.5 311.01,944.4 311.72,944.3 312.42,944.2 313.13,944.2 313.83,944.1 314.54,944 315.24,943.9 315.95,943.8 316.65,943.7 317.36,943.6 318.06,943.5 318.77,943.4 319.47,943.4 320.18,943.3 320.88,943.2 321.59,943.1 322.29,943 323,942.9 323.7,942.8 324.41,942.7 325.11,942.6 325.82,942.5 326.53,942.5 327.23,942.4 327.94,942.3 328.64,942.2 329.35,942.1 330.05,942 330.76,941.9 331.46,941.8 332.17,941.7 332.87,941.6 333.58,941.6 334.28,941.5 334.99,941.4 335.69,941.3 336.4,941.2 337.1,941.1 337.81,941 338.51,940.9 339.22,940.8 339.92,940.8 340.63,940.7 341.33,940.6 342.04,940.5 342.74,940.4 343.45,940.3 344.15,940.2 344.86,940.1 345.57,940 346.27,940 346.98,939.9 347.68,939.8 348.39,939.7 349.09,939.6 349.8,939.5 350.5,939.4 351.21,939.3 351.91,939.3 352.62,939.2 353.32,939.1 354.03,939 354.73,938.9 355.44,938.8 356.14,938.7 356.85,938.7 357.55,938.6 358.26,938.5 358.96,938.4 359.67,938.3 360.37,938.2 361.08,938.1 361.78,938.1 362.49,938 363.19,937.9 363.9,937.8 364.61,937.7 365.31,937.6 366.02,937.5 366.72,937.5 367.43,937.4 368.13,937.3 368.84,937.2 369.54,937.1 370.25,937 370.95,937 371.66,936.9 372.36,936.8 373.07,936.7 373.77,936.6 374.48,936.6 375.18,936.5 375.89,936.4 376.59,936.3 377.3,936.2 378,936.1 378.71,936.1 379.41,936 380.12,935.9 380.82,935.8 381.53,935.7 382.23,935.7 382.94,935.6 383.65,935.5 384.35,935.4 385.06,935.4 385.76,935.3 386.47,935.2 387.17,935.1 387.88,935 388.58,935 389.29,934.9 389.99,934.8 390.7,934.7 391.4,934.7 392.11,934.6 392.81,934.5 393.52,934.4 394.22,934.4 394.93,934.3 395.63,934.2 396.34,934.1 397.04,934.1 397.75,934 398.45,933.9 399.16,933.8 399.86,933.8 400.57,933.7 401.27,933.6 401.98,933.6 402.69,933.5 403.39,933.4 404.1,933.3 404.8,933.3 405.51,933.2 406.21,933.1 406.92,933.1 407.62,933 408.33,932.9 409.03,932.9 409.74,932.8 410.44,932.7 411.15,932.7 411.85,932.6 412.56,932.5 413.26,932.5 413.97,932.4 414.67,932.3 415.38,932.3 416.08,932.2 416.79,932.1 417.49,932.1 418.2,932 418.9,931.9 419.61,931.9 420.31,931.8 421.02,931.8 421.73,931.7 422.43,931.6 423.14,931.6 423.84,931.5 424.55,931.5 425.25,931.4 425.96,931.3 426.66,931.3 427.37,931.2 428.07,931.2 428.78,931.1 429.48,931 430.19,931 430.89,930.9 431.6,930.9 432.3,930.8 433.01,930.8 433.71,930.7 434.42,930.7 435.12,930.6 435.83,930.5 436.53,930.5 437.24,930.4 437.94,930.4 438.65,930.3 439.35,930.3 440.06,930.2 440.77,930.2 441.47,930.1 442.18,930.1 442.88,930 443.59,930 444.29,929.9 445,929.9 445.7,929.8 446.41,929.8 447.11,929.7 447.82,929.7 448.52,929.6 449.23,929.6 449.93,929.5 450.64,929.5 451.34,929.4 452.05,929.4 452.75,929.3 453.46,929.3 454.16,929.3 454.87,929.2 455.57,929.2 456.28,929.1 456.98,929.1 457.69,929 458.39,929 459.1,928.9 459.81,928.9 460.51,928.8 461.22,928.8 461.92,928.8 462.63,928.7 463.33,928.7 464.04,928.6 464.74,928.6 465.45,928.5 466.15,928.5 466.86,928.5 467.56,928.4 468.27,928.4 468.97,928.3 469.68,928.3 470.38,928.2 471.09,928.2 471.79,928.2 472.5,928.1 473.2,928.1 473.91,928 474.61,928 475.32,928 476.02,927.9 476.73,927.9 477.43,927.8 478.14,927.8 478.85,927.8 479.55,927.7 480.26,927.7 480.96,927.6 481.67,927.6 482.37,927.6 483.08,927.5 483.78,927.5 484.49,927.4 485.19,927.4 485.9,927.4 486.6,927.3 487.31,927.3 488.01,927.2 488.72,927.2 489.42,927.2 490.13,927.1 490.83,927.1 491.54,927.1 492.24,927 492.95,927 493.65,926.9 494.36,926.9 495.06,926.9 495.77,926.8 496.47,926.8 497.18,926.7 497.89,926.7 498.59,926.7 499.3,926.6 500,926.6 500.71,926.5 501.41,926.5 502.12,926.5 502.82,926.4 503.53,926.4 504.23,926.4 504.94,926.3 505.64,926.3 506.35,926.2 507.05,926.2 507.76,926.2 508.46,926.1 509.17,926.1 509.87,926 510.58,926 511.28,926 511.99,925.9 512.69,925.9 513.4,925.8 514.1,925.8 514.81,925.8 515.51,925.7 516.22,925.7 516.93,925.6 517.63,925.6 518.34,925.6 519.04,925.5 519.75,925.5 520.45,925.4 521.16,925.4 521.86,925.4 522.57,925.3 523.27,925.3 523.98,925.2 524.68,925.2 525.39,925.2 526.09,925.1 526.8,925.1 527.5,925 528.21,925 528.91,924.9 529.62,924.9 530.32,924.9 531.03,924.8 531.73,924.8 532.44,924.7 533.14,924.7 533.85,924.6 534.55,924.6 535.26,924.6 535.97,924.5 536.67,924.5 537.38,924.4 538.08,924.4 538.79,924.3 539.49,924.3 540.2,924.2 540.9,924.2 541.61,924.1 542.31,924.1 543.02,924.1 543.72,924 544.43,924 545.13,923.9 545.84,923.9 546.54,923.8 547.25,923.8 547.95,923.7 548.66,923.7 549.36,923.6 550.07,923.6 550.77,923.5 551.48,923.5 552.18,923.4 552.89,923.4 553.59,923.3 554.3,923.3 555.01,923.2 555.71,923.2 556.42,923.1 557.12,923.1 557.83,923 558.53,923 559.24,922.9 559.94,922.9 560.65,922.8 561.35,922.7 562.06,922.7 562.76,922.6 563.47,922.6 564.17,922.5 564.88,922.4 565.58,922.4 566.29,922.3 566.99,922.3 567.7,922.2 568.4,922.1 569.11,922.1 569.81,922 570.52,921.9 571.22,921.9 571.93,921.8 572.63,921.8 573.34,921.7 574.05,921.6 574.75,921.6 575.46,921.5 576.16,921.4 576.87,921.4 577.57,921.3 578.28,921.2 578.98,921.1 579.69,921.1 580.39,921 581.1,920.9 581.8,920.9 582.51,920.8 583.21,920.7 583.92,920.7 584.62,920.6 585.33,920.5 586.03,920.5 586.74,920.4 587.44,920.3 588.15,920.3 588.85,920.2 589.56,920.1 590.26,920.1 590.97,920 591.67,919.9 592.38,919.9 593.09,919.8 593.79,919.7 594.5,919.7 595.2,919.6 595.91,919.6 596.61,919.5 597.32,919.4 598.02,919.4 598.73,919.3 599.43,919.2 600.14,919.2 600.84,919.1 601.55,919.1 602.25,919 602.96,919 603.66,918.9 604.37,918.8 605.07,918.8 605.78,918.7 606.48,918.7 607.19,918.6 607.89,918.6 608.6,918.5 609.3,916.6 610.01,916.5 610.71,916.4 611.42,916.3 612.13,916.2 612.83,916.1 613.54,916 614.24,915.9 614.95,915.8 615.65,915.7 616.36,915.6 617.06,915.4 617.77,915.3 618.47,915.2 619.18,915.1 619.88,914.9 620.59,914.8 621.29,914.6 622,914.5 622.7,914.3 623.41,914.2 624.11,914 624.82,913.8 625.52,913.7 626.23,913.5 626.93,913.3 627.64,913.1 628.34,912.9 629.05,912.7 629.75,912.4 630.46,912.2 631.17,911.9 631.87,911.7 632.58,911.4 633.28,911.1 633.99,910.8 634.69,910.5 635.4,910.1 636.1,909.7 636.81,909.3 637.51,908.9 638.22,908.4 638.92,908 639.63,907.4 640.33,906.9 641.04,906.2 641.74,905.6 642.45,904.8 643.15,904 643.86,903.2 644.56,902.2 645.27,901.1 645.97,899.9 646.68,898.5 647.38,897 648.09,895.2 648.79,893.1 649.5,890.7 650.21,887.8 650.91,884.4 651.62,880.4 652.32,875.6 653.03,870 653.73,863.3 654.44,855.5 655.14,846.5 655.85,836.1 656.55,824.3 657.26,811 657.96,796.5 658.67,780.7 659.37,764.2 660.08,747.5 660.78,731.4 661.49,717 662.19,705.6 662.9,698.5 663.6,696.6 664.31,700 665.01,708.4 665.72,720.7 666.42,735.7 667.13,752 667.83,768.7 668.54,784.9 669.25,800.3 669.95,814.4 670.66,827.1 671.36,838.5 672.07,848.4 672.77,857 673.48,864.4 674.18,870.6 674.89,875.9 675.59,880.4 676.3,884.2 677,887.3 677.71,890 678.41,892.2 679.12,894.1 679.82,895.8 680.53,897.2 681.23,898.4 681.94,899.5 682.64,900.5 683.35,901.4 684.05,902.1 684.76,902.8 685.46,903.5 686.17,904.1 686.87,904.6 687.58,905.1 688.29,905.5 688.99,905.9 689.7,906.3 690.4,906.6 691.11,907 691.81,907.3 692.52,907.5 693.22,907.8 693.93,908 694.63,908.2 695.34,908.4 696.04,908.6 696.75,908.8 697.45,909 698.16,909.1 698.86,909.3 699.57,909.4 700.27,909.5 700.98,909.6 701.68,909.7 702.39,909.8 703.09,909.9 703.8,910 704.5,910.1 705.21,910.2 705.91,910.3 706.62,910.3 707.33,910.4 708.03,910.5 708.74,910.5 709.44,910.6 710.15,910.6 710.85,910.7 711.56,910.7 712.26,910.7 712.97,910.8 713.67,910.8 714.38,910.9 715.08,910.9 715.79,910.9 716.49,910.9 717.2,911 717.9,911 718.61,912.8 719.31,912.8 720.02,912.8 720.72,912.7 721.43,912.7 722.13,912.7 722.84,912.7 723.54,912.6 724.25,912.6 724.95,912.6 725.66,912.6 726.37,912.5 727.07,912.5 727.78,912.5 728.48,912.5 729.19,912.5 729.89,912.4 730.6,912.4 731.3,912.4 732.01,912.4 732.71,912.3 733.42,912.3 734.12,912.3 734.83,912.3 735.53,912.3 736.24,912.2 736.94,912.2 737.65,912.2 738.35,912.2 739.06,912.1 739.76,912.1 740.47,912.1 741.17,912.1 741.88,912.1 742.58,912 743.29,912 743.99,912 744.7,912 745.41,912 746.11,911.9 746.82,911.9 747.52,911.9 748.23,911.9 748.93,911.9 749.64,911.8 750.34,911.8 751.05,911.8 751.75,911.8 752.46,911.7 753.16,911.7 753.87,911.7 754.57,911.7 755.28,911.7 755.98,911.6 756.69,911.6 757.39,911.6 758.1,911.6 758.8,911.6 759.51,911.5 760.21,911.5 760.92,911.5 761.62,911.5 762.33,911.5 763.03,911.4 763.74,911.4 764.45,911.4 765.15,911.4 765.86,911.4 766.56,911.3 767.27,911.3 767.97,911.3 768.68,911.3 769.38,911.3 770.09,911.2 770.79,911.2 771.5,911.2 772.2,911.2 772.91,911.2 773.61,911.1 774.32,911.1 775.02,911.1 775.73,911.1 776.43,911.1 777.14,911 777.84,911 778.55,911 779.25,911 779.96,911 780.66,910.9 781.37,910.9 782.07,910.9 782.78,910.9 783.49,910.9 784.19,910.8 784.9,910.8 785.6,910.8 786.31,910.8 787.01,910.7 787.72,910.7 788.42,910.7 789.13,910.7 789.83,910.7 790.54,910.6 791.24,910.6 791.95,910.6 792.65,910.6 793.36,910.6 794.06,910.5 794.77,910.5 795.47,902.3 796.18,902.1 796.88,901.9 797.59,901.6 798.29,901.4 799,901.1 799.7,900.9 800.41,900.6 801.11,900.3 801.82,900 802.53,899.7 803.23,899.4 803.94,899.1 804.64,898.7 805.35,898.4 806.05,898 806.76,897.6 807.46,897.2 808.17,896.8 808.87,896.3 809.58,895.9 810.28,895.4 810.99,894.9 811.69,894.4 812.4,893.8 813.1,893.2 813.81,892.6 814.51,892 815.22,891.3 815.92,890.6 816.63,889.9 817.33,889.1 818.04,888.2 818.74,887.4 819.45,886.4 820.15,885.5 820.86,884.4 821.57,883.3 822.27,882.1 822.98,880.8 823.68,879.5 824.39,878.1 825.09,876.5 825.8,874.9 826.5,873.1 827.21,871.2 827.91,869.2 828.62,867 829.32,864.6 830.03,861.9 830.73,859.1 831.44,855.9 832.14,852.5 832.85,848.7 833.55,844.4 834.26,839.6 834.96,834.2 835.67,828 836.37,820.9 837.08,812.8 837.78,803.4 838.49,792.6 839.19,780 839.9,765.5 840.61,748.6 841.31,729.1 842.02,706.7 842.72,681.2 843.43,652.2 844.13,619.5 844.84,583 845.54,542.7 846.25,498.7 846.95,451.3 847.66,401.1 848.36,349 849.07,296.6 849.77,245 850.48,198.1 851.18,158 851.89,127.9 852.59,110.4 853.3,107.2 854,118.5 854.71,143.3 855.41,179.3 856.12,223.5 856.82,273 857.53,325 858.23,377.3 858.94,428.4 859.65,477.1 860.35,522.5 861.06,564.4 861.76,602.5 862.47,636.7 863.17,667.3 863.88,694.2 864.58,717.9 865.29,738.5 865.99,756.4 866.7,771.8 867.4,785.2 868.11,796.6 868.81,806.5 869.52,815.1 870.22,822.5 870.93,828.9 871.63,834.6 872.34,839.5 873.04,843.9 873.75,847.8 874.45,851.3 875.16,854.5 875.86,857.3 876.57,859.9 877.27,862.3 877.98,864.4 878.69,866.4 879.39,868.2 880.1,869.9 880.8,871.5 881.51,872.9 882.21,874.2 882.92,875.4 883.62,876.5 884.33,877.5 885.03,878.4 885.74,879.3 886.44,880 887.15,880.7 887.85,881.3 888.56,881.9 889.26,882.3 889.97,882.7 890.67,883 891.38,883.3 892.08,883.4 892.79,883.4 893.49,883.4 894.2,883.2 894.9,882.8 895.61,882.3 896.31,881.7 897.02,880.8 897.73,879.7 898.43,878.4 899.14,876.8 899.84,874.9 900.55,872.7 901.25,870.2 901.96,867.4 902.66,864.3 903.37,860.8 904.07,857.2 904.78,853.3 905.48,849.4 906.19,845.5 906.89,841.9 907.6,838.8 908.3,836.3 909.01,834.9 909.71,834.5 910.42,835.3 911.12,845.2 911.83,847.9 912.53,851.2 913.24,855 913.94,859.1 914.65,863.3 915.35,867.4 916.06,871.3 916.77,874.9 917.47,878.3 918.18,881.4 918.88,884.2 919.59,886.7 920.29,888.9 921,890.8 921.7,892.5 922.41,894 923.11,895.2 923.82,896.3 924.52,897.3 925.23,898.1 925.93,898.8 926.64,899.4 927.34,899.9 928.05,900.3 928.75,900.7 929.46,901.1 930.16,901.4 930.87,901.7 931.57,901.9 932.28,902.1 932.98,902.3 933.69,902.5 934.39,902.7 935.1,902.8 935.81,903 936.51,903.1 937.22,903.2 937.92,903.3 938.63,903.4 939.33,903.5 940.04,903.6 940.74,903.7 941.45,903.8 942.15,903.8 942.86,903.9 943.56,904 944.27,904 944.97,904.1 945.68,904.1 946.38,904.2 947.09,904.2 947.79,904.2 948.5,904.3 949.2,904.3 949.91,904.3 950.61,904.4 951.32,904.4 952.02,904.4 952.73,904.4 953.43,904.5 954.14,904.5 954.85,904.5 955.55,904.5 956.26,904.5 956.96,904.5 957.67,904.6 958.37,904.6 959.08,904.6 959.78,904.6 960.49,904.6 961.19,904.6 961.9,904.6 962.6,904.6 963.31,904.6 964.01,904.6 964.72,904.6 965.42,904.7 966.13,904.7 966.83,904.7 967.54,904.7 968.24,904.7 968.95,904.7 969.65,904.7 970.36,905.3 971.06,905.3 971.77,905.2 972.47,905.2 973.18,905.2 973.89,905.2 974.59,905.2 975.3,905.2 976,905.2 976.71,905.2 977.41,905.2 978.12,905.1 978.82,905.1 979.53,905.1 980.23,905.1 980.94,905.1 981.64,905.1 982.35,905.1 983.05,905.1 983.76,905.1 984.46,905.1 985.17,905 985.87,905 986.58,905 987.28,905 987.99,905 988.69,905 989.4,905 990.1,905 990.81,905 991.51,905 992.22,905 992.93,904.9 993.63,904.9 994.34,904.9 995.04,904.9 995.75,904.9 996.45,904.9 997.16,904.9 997.86,904.9 998.57,904.9 999.27,904.9 999.98,904.9 1000.68,904.8 1001.39,904.8 1002.09,904.8 1002.8,904.8 1003.5,904.8 1004.21,904.8 1004.91,904.8 1005.62,904.8 1006.32,904.8 1007.03,904.8 1007.73,904.8 1008.44,904.7 1009.14,904.7 1009.85,904.7 1010.55,904.7 1011.26,904.7 1011.97,904.7 1012.67,904.7 1013.38,904.7 1014.08,904.7 1014.79,904.7 1015.49,904.7 1016.2,904.7 1016.9,904.6 1017.61,904.6 1018.31,904.6 1019.02,904.6 1019.72,904.6 1020.43,904.6 1021.13,904.6 1021.84,904.6 1022.54,904.6 1023.25,904.6 1023.95,904.6 1024.66,904.5 1025.36,904.5 1026.07,904.5 1026.77,904.5 1027.48,904.5 1028.18,904.5 1028.89,904.5 1029.59,904.5 1030.3,904.5 1031.01,904.5 1031.71,904.4 1032.42,904.4 1033.12,904.4 1033.83,904.4 1034.53,904.4 1035.24,904.4 1035.94,904.4 1036.65,904.4 1037.35,904.4 1038.06,904.4 1038.76,904.3 1039.47,904.3 1040.17,904.3 1040.88,904.3 1041.58,904.3 1042.29,904.3 1042.99,904.3 1043.7,904.3 1044.4,904.3 1045.11,904.2 1045.81,904.2 1046.52,904.2 1047.22,904.2 1047.93,904.2 1048.63,904.2 1049.34,904.2 1050.05,904.2 1050.75,904.2 1051.46,904.1 1052.16,904.1 1052.87,904.1 1053.57,904.1 1054.28,904.1 1054.98,904.1 1055.69,904.1 1056.39,904.1 1057.1,904 1057.8,904 1058.51,904 1059.21,902.4 1059.92,902.3 1060.62,902.3 1061.33,902.2 1062.03,902.2 1062.74,902.1 1063.44,902.1 1064.15,902 1064.85,901.9 1065.56,901.9 1066.26,901.8 1066.97,901.7 1067.67,901.7 1068.38,901.6 1069.09,901.5 1069.79,901.5 1070.5,901.4 1071.2,901.3 1071.91,901.2 1072.61,901.1 1073.32,901 1074.02,900.9 1074.73,900.8 1075.43,900.7 1076.14,900.6 1076.84,900.5 1077.55,900.4 1078.25,900.3 1078.96,900.2 1079.66,900.1 1080.37,899.9 1081.07,899.8 1081.78,899.6 1082.48,899.5 1083.19,899.3 1083.89,899.2 1084.6,899 1085.3,898.8 1086.01,898.6 1086.71,898.4 1087.42,898.2 1088.13,898 1088.83,897.8 1089.54,897.5 1090.24,897.3 1090.95,897 1091.65,896.7 1092.36,896.4 1093.06,896.1 1093.77,895.7 1094.47,895.3 1095.18,894.9 1095.88,894.5 1096.59,894.1 1097.29,893.6 1098,893 1098.7,892.4 1099.41,891.8 1100.11,891.1 1100.82,890.4 1101.52,889.5 1102.23,888.6 1102.93,887.6 1103.64,886.4 1104.34,885.1 1105.05,883.6 1105.75,881.9 1106.46,879.9 1107.17,877.7 1107.87,875.2 1108.58,872.2 1109.28,868.9 1109.99,865 1110.69,860.7 1111.4,855.7 1112.1,850.2 1112.81,844 1113.51,837.1 1114.22,829.5 1114.92,821.2 1115.63,812.3 1116.33,802.8 1117.04,792.8 1117.74,782.6 1118.45,772.4 1119.15,762.6 1119.86,753.6 1120.56,745.9 1121.27,740 1121.97,736.4 1122.68,735.3 1123.38,736.9 1124.09,741 1124.79,747.3 1125.5,755.3 1126.21,764.5 1126.91,774.4 1127.62,784.5 1128.32,794.7 1129.03,804.5 1129.73,813.8 1130.44,822.5 1131.14,830.6 1131.85,838 1132.55,844.7 1133.26,850.7 1133.96,856.1 1134.67,860.8 1135.37,865 1136.08,868.7 1136.78,871.9 1137.49,874.7 1138.19,877.1 1138.9,879.2 1139.6,881.1 1140.31,882.7 1141.01,884.1 1141.72,885.3 1142.42,886.4 1143.13,887.3 1143.83,888.2 1144.54,889 1145.25,889.7 1145.95,890.3 1146.66,890.9 1147.36,891.4 1148.07,891.8 1148.77,892.3 1149.48,892.7 1150.18,893.1 1150.89,893.4 1151.59,893.7 1152.3,894 1153,894.3 1153.71,894.6 1154.41,894.8 1155.12,895 1155.82,895.2 1156.53,895.4 1157.23,895.6 1157.94,895.8 1158.64,895.9 1159.35,896.1 1160.05,896.2 1160.76,896.3 1161.46,896.5 1162.17,896.6 1162.87,896.7 1163.58,896.8 1164.29,896.9 1164.99,897 1165.7,897.1 1166.4,897.1 1167.11,897.2 1167.81,897.3 1168.52,897.3 1169.22,897.4 1169.93,897.5 1170.63,897.5 1171.34,897.6 1172.04,897.6 1172.75,897.7 1173.45,897.7 1174.16,897.7 1174.86,897.8 1175.57,897.8 1176.27,897.8 1176.98,897.9 1177.68,897.9 1178.39,897.9 1179.09,897.9 1179.8,898 1180.5,898 1181.21,898 1181.91,898 1182.62,898 1183.33,898 1184.03,898.1 1184.74,898.1 1185.44,898.1 1186.15,898.1 1186.85,899.7 1187.56,899.6 1188.26,899.6 1188.97,899.6 1189.67,899.6 1190.38,899.5 1191.08,899.5 1191.79,899.5 1192.49,899.4 1193.2,899.4 1193.9,899.4 1194.61,899.4 1195.31,899.3 1196.02,899.3 1196.72,899.3 1197.43,899.3 1198.13,899.2 1198.84,899.2 1199.54,899.2 1200.25,899.2 1200.95,899.1 1201.66,899 1202.37,899 1203.07,899 1203.78,899 1204.48,898.9 1205.19,898.9 1205.89,898.9 1206.6,898.8 1207.3,898.8 1208.01,898.8 1208.71,898.8 1209.42,898.7 1210.12,898.7 1210.83,898.7 1211.53,898.6 1212.24,898.6 1212.94,898.6 1213.65,898.6 1214.35,898.5 1215.06,898.5 1215.76,898.5 1216.47,898.5 1217.17,898.4 1217.88,898.4 1218.58,898.4 1219.29,898.3 1219.99,898.3 1220.7,898.3 1221.41,898.3 1222.11,898.2 1222.82,898.2 1223.52,898.2 1224.23,898.1 1224.93,898.1 1225.64,898.1 1226.34,898.1 1227.05,898 1227.75,898 1228.46,898 1229.16,897.9 1229.87,897.9 1230.57,897.9 1231.28,897.9 1231.98,897.8 1232.69,897.8 1233.39,897.8 1234.1,897.7 1234.8,897.7 1235.51,897.7 1236.21,897.6 1236.92,897.6 1237.62,897.6 1238.33,897.5 1239.03,897.5 1239.74,897.4 1240.45,897.4 1241.15,897.4 1241.86,897.3 1242.56,897.3 1243.27,897.2 1243.97,897.2 1244.68,897.1 1245.38,897.1 1246.09,897 1246.79,897 1247.5,896.9 1248.2,896.8 1248.91,896.8 1249.61,896.7 1250.32,896.6 1251.02,896.5 1251.73,896.4 1252.43,896.2 1253.14,896.1 1253.84,895.9 1254.55,895.7 1255.25,895.5 1255.96,895.3 1256.66,895 1257.37,894.8 1258.07,894.4 1258.78,894.1 1259.49,893.7 1260.19,893.3 1260.9,892.9 1261.6,892.5 1262.31,892 1263.01,891.6 1263.72,891.1 1264.42,890.8 1265.13,890.4 1265.83,890.2 1266.54,890 1267.24,890 1267.95,890.1 1268.65,890.3 1269.36,890.5 1270.06,890.9 1270.77,891.2 1271.47,891.7 1272.18,892.1 1272.88,892.5 1273.59,892.9 1274.29,893.3 1275,893.6 1275.7,893.9 1276.41,894.2 1277.11,894.5 1277.82,894.7 1278.53,894.9 1279.23,895.1 1279.94,895.3 1280.64,895.4 1281.35,895.5 1282.05,895.6 1282.76,895.7 1283.46,895.8 1284.17,895.8 1284.87,895.9 1285.58,895.9 1286.28,896 1286.99,896 1287.69,896 1288.4,896 1289.1,896.1 1289.81,896.1 1290.51,896.1 1291.22,896.1 1291.92,896.1 1292.63,896.1 1293.33,896.1 1294.04,896.1 1294.74,896.1 1295.45,896.1 1296.15,896.1 1296.86,896.1 1297.57,896.1 1298.27,896.1 1298.98,896.1 1299.68,896.1 1300.39,896.1 1301.09,896.1 1301.8,896.1 1302.5,896.1 1303.21,896.1 1303.91,896.1 1304.62,896.1 1305.32,896.1 1306.03,896.1 1306.73,896 1307.44,896 1308.14,896 1308.85,896 1309.55,896 1310.26,896 1310.96,896 1311.67,896 1312.37,896 1313.08,896 1313.78,896 1314.49,895.9 1315.19,895.9 1315.9,895.9 1316.61,895.9 1317.31,895.9 1318.02,895.9 1318.72,895.9 1319.43,895.9 1320.13,895.9 1320.84,895.9 1321.54,895.8 1322.25,895.8 1322.95,895.8 1323.66,895.8 1324.36,895.8 1325.07,895.8 1325.77,895.8 1326.48,895.8 1327.18,895.8 1327.89,895.7 1328.59,895.7 1329.3,895.7 1330,895.7 1330.71,895.7 1331.41,895.7 1332.12,895.7 1332.82,895.7 1333.53,895.7 1334.23,895.7 1334.94,895.7 1335.65,895.7 1336.35,895.7 1337.06,895.6 1337.76,895.6 1338.47,895.6 1339.17,895.6 1339.88,895.6 1340.58,895.6 1341.29,895.6 1341.99,895.6 1342.7,895.5 1343.4,895.5 1344.11,895.5 1344.81,895.5 1345.52,895.5 1346.22,895.5 1346.93,895.5 1347.63,895.5 1348.34,895.4 1349.04,895.4 1349.75,895.4 1350.45,895.4 1351.16,895.4 1351.86,895.4 1352.57,895.4 1353.27,895.3 1353.98,895.3 1354.69,895.3 1355.39,895.3 1356.1,895.3 1356.8,895.3 1357.51,895.3 1358.21,895.2 1358.92,895.2 1359.62,895.2 1360.33,895.2 1361.03,895.2 1361.74,895.2 1362.44,895.2 1363.15,895.2 1363.85,895.1 1364.56,895.1 1365.26,895.1 1365.97,895.1 1366.67,895.1 1367.38,895.1 1368.08,895.1 1368.79,895 1369.49,895 1370.2,895 1370.9,895 1371.61,895 1372.31,895 1373.02,895 1373.73,894.9 1374.43,894.9 1375.14,894.9 1375.84,894.9 1376.55,894.9 1377.25,894.9 1377.96,894.8 1378.66,894.8 1379.37,894.8 1380.07,894.8 1380.78,894.8 1381.48,894.8 1382.19,894.8 1382.89,894.7 1383.6,894.7 1384.3,894.7 1385.01,894.7 1385.71,894.7 1386.42,894.7 1387.12,894.6 1387.83,894.6 1388.53,894.6 1389.24,894.6 1389.94,894.6 1390.65,894.6 1391.35,894.6 1392.06,894.5 1392.77,894.5 1393.47,894.5 1394.18,894.5 1394.88,894.5 1395.59,894.5 1396.29,894.4 1397,894.4 1397.7,894.4 1398.41,894.4 1399.11,894.4 1399.82,894.3 1400.52,894.3 1401.23,894.3 1401.93,894.3 1402.64,894.3 1403.34,894.3 1404.05,894.2 1404.75,894.2 1405.46,894.2 1406.16,894.2 1406.87,894.2 1407.57,894.2 1408.28,894.1 1408.98,894.1 1409.69,894.1 1410.39,894.1 1411.1,894.1 1411.81,894 1412.51,894 1413.22,894 1413.92,894 1414.63,894 1415.33,893.9 1416.04,893.9 1416.74,893.9 1417.45,893.9 1418.15,893.9 1418.86,893.8 1419.56,893.8 1420.27,893.2 1420.97,893.1 1421.68,893.1 1422.38,893.1 1423.09,893 1423.79,893 1424.5,893 1425.2,892.9 1425.91,892.9 1426.61,892.9 1427.32,892.8 1428.02,892.8 1428.73,892.7 1429.43,892.7 1430.14,892.7 1430.85,892.6 1431.55,892.6 1432.26,892.5 1432.96,892.5 1433.67,892.4 1434.37,892.4 1435.08,892.3 1435.78,892.3 1436.49,892.2 1437.19,892.2 1437.9,892.1 1438.6,892.1 1439.31,892 1440.01,892 1440.72,891.9 1441.42,891.9 1442.13,891.8 1442.83,891.7 1443.54,891.7 1444.24,891.6 1444.95,891.5 1445.65,891.5 1446.36,891.4 1447.06,891.3 1447.77,891.2 1448.47,891.1 1449.18,891 1449.89,891 1450.59,890.9 1451.3,890.8 1452,890.7 1452.71,890.5 1453.41,890.4 1454.12,890.3 1454.82,890.2 1455.53,890.1 1456.23,889.9 1456.94,889.8 1457.64,889.6 1458.35,889.5 1459.05,889.3 1459.76,889.1 1460.46,888.9 1461.17,888.7 1461.87,888.5 1462.58,888.3 1463.28,888 1463.99,887.8 1464.69,887.5 1465.4,887.2 1466.1,886.9 1466.81,886.5 1467.51,886.1 1468.22,885.6 1468.93,885.2 1469.63,884.6 1470.34,884 1471.04,883.3 1471.75,882.6 1472.45,881.7 1473.16,880.7 1473.86,879.6 1474.57,878.4 1475.27,877.1 1475.98,875.6 1476.68,873.9 1477.39,872 1478.09,870 1478.8,867.8 1479.5,865.4 1480.21,862.8 1480.91,860 1481.62,857.1 1482.32,854 1483.03,850.8 1483.73,847.6 1484.44,844.4 1485.14,841.3 1485.85,838.5 1486.55,836 1487.26,834 1487.97,832.6 1488.67,831.8 1489.38,831.8 1490.08,832.5 1490.79,833.8 1491.49,835.8 1492.2,838.2 1492.9,841 1493.61,844 1494.31,847.1 1495.02,850.2 1495.72,853.3 1496.43,856.2 1497.13,859.1 1497.84,861.8 1498.54,864.3 1499.25,866.6 1499.95,868.7 1500.66,870.6 1501.36,872.4 1502.07,873.9 1502.77,875.3 1503.48,876.6 1504.18,877.7 1504.89,878.7 1505.59,879.6 1506.3,880.3 1507.01,881 1507.71,881.6 1508.42,882.1 1509.12,882.6 1509.83,883 1510.53,883.3 1511.24,883.6 1511.94,883.9 1512.65,884.2 1513.35,884.4 1514.06,884.6 1514.76,884.8 1515.47,884.9 1516.17,885.1 1516.88,885.2 1517.58,885.3 1518.29,885.4 1518.99,885.5 1519.7,885.6 1520.4,885.7 1521.11,885.8 1521.81,885.9 1522.52,885.9 1523.22,886 1523.93,886 1524.63,886.1 1525.34,886.1 1526.05,886.1 1526.75,886.2 1527.46,886.2 1528.16,886.2 1528.87,886.2 1529.57,886.2 1530.28,886.2 1530.98,886.3 1531.69,886.3 1532.39,886.3 1533.1,886.3 1533.8,886.3 1534.51,886.3 1535.21,886.3 1535.92,886.3 1536.62,886.3 1537.33,886.3 1538.03,886.2 1538.74,886.2 1539.44,886.2 1540.15,886.2 1540.85,886.2 1541.56,886.2 1542.26,886.2 1542.97,886.2 1543.67,884.4 1544.38,884.3 1545.09,884.3 1545.79,884.2 1546.5,884.2 1547.2,884.1 1547.91,884.1 1548.61,884 1549.32,884 1550.02,883.9 1550.73,883.8 1551.43,883.8 1552.14,883.7 1552.84,883.6 1553.55,883.5 1554.25,883.5 1554.96,883.4 1555.66,883.3 1556.37,883.2 1557.07,883.2 1557.78,883.1 1558.48,883.6 1559.19,883.5 1559.89,883.4 1560.6,883.3 1561.3,883.2 1562.01,883.1 1562.71,883 1563.42,882.9 1564.13,882.8 1564.83,882.6 1565.54,882.5 1566.24,882.4 1566.95,882.3 1567.65,882.1 1568.36,882 1569.06,881.9 1569.77,881.7 1570.47,881.6 1571.18,881.4 1571.88,881.3 1572.59,881.1 1573.29,880.9 1574,880.7 1574.7,880.6 1575.41,880.4 1576.11,880.1 1576.82,879.9 1577.52,879.7 1578.23,879.5 1578.93,879.2 1579.64,878.9 1580.34,878.6 1581.05,878.3 1581.75,878 1582.46,877.7 1583.17,877.3 1583.87,876.9 1584.58,876.5 1585.28,876.1 1585.99,875.6 1586.69,875.1 1587.4,874.5 1588.1,873.9 1588.81,873.3 1589.51,872.6 1590.22,871.9 1590.92,871 1591.63,870.1 1592.33,869.1 1593.04,868 1593.74,866.7 1594.45,865.3 1595.15,863.7 1595.86,861.9 1596.56,859.9 1597.27,857.6 1597.97,854.9 1598.68,851.9 1599.38,848.5 1600.09,844.6 1600.79,840.2 1601.5,835.3 1602.21,829.7 1602.91,823.5 1603.62,816.7 1604.32,809.1 1605.03,800.8 1605.73,791.8 1606.44,782.1 1607.14,771.8 1607.85,761 1608.55,749.9 1609.26,738.7 1609.96,727.7 1610.67,717.4 1611.37,708 1612.08,700.3 1612.78,694.5 1613.49,691.2 1614.19,690.6 1614.9,692.7 1615.6,697.4 1616.31,704.3 1617.01,713 1617.72,722.9 1618.42,733.7 1619.13,744.8 1619.83,756 1620.54,766.9 1621.25,777.4 1621.95,787.4 1622.66,796.7 1623.36,805.3 1624.07,813.2 1624.77,820.4 1625.48,826.9 1626.18,832.7 1626.89,837.9 1627.59,842.6 1628.3,846.7 1629,850.3 1629.71,853.4 1630.41,856.2 1631.12,858.7 1631.82,860.8 1632.53,862.7 1633.23,864.4 1633.94,865.9 1634.64,867.2 1635.35,868.4 1636.05,869.4 1636.76,870.4 1637.46,871.2 1638.17,872 1638.87,872.7 1639.58,873.4 1640.29,874 1640.99,874.5 1641.7,875 1642.4,875.5 1643.11,876 1643.81,876.4 1644.52,876.8 1645.22,877.2 1645.93,877.5 1646.63,877.8 1647.34,878.1 1648.04,878.4 1648.75,878.7 1649.45,878.9 1650.16,879.2 1650.86,879.4 1651.57,879.6 1652.27,879.8 1652.98,880 1653.68,880.2 1654.39,880.4 1655.09,880.6 1655.8,880.7 1656.5,880.9 1657.21,881 1657.91,881.1 1658.62,881.3 1659.33,881.4 1660.03,881.5 1660.74,881.6 1661.44,881.8 1662.15,881.9 1662.85,882 1663.56,882.1 1664.26,882.1 1664.97,882.2 1665.67,882.3 1666.38,882.4 1667.08,882.5 1667.79,882.6 1668.49,882.6 1669.2,882.7 1669.9,882.8 1670.61,882.8 1671.31,882.9 1672.02,883 1672.72,883 1673.43,883.1 1674.13,883.1 1674.84,883.2 1675.54,883.2 1676.25,883.3 1676.95,883.3 1677.66,883.4 1678.37,883.4 1679.07,883.5 1679.78,883.5 1680.48,883.6 1681.19,883.6 1681.89,883.6 1682.6,883.7 1683.3,883.7 1684.01,883.7 1684.71,883.8 1685.42,885.5 1686.12,885.5 1686.83,885.5 1687.53,885.5 1688.24,885.5 1688.94,885.5 1689.65,885.5 1690.35,885.5 1691.06,885.5 1691.76,885.5 1692.47,885.5 1693.17,885.5 1693.88,885.5 1694.58,885.5 1695.29,885.5 1695.99,885.5 1696.7,885.5 1697.41,885.5 1698.11,885.5 1698.82,885.5 1699.52,885.5 1700.23,885.5 1700.93,885.5 1701.64,885.5 1702.34,885.5 1703.05,885.5 1703.75,885.5 1704.46,885.5 1705.16,885.5 1705.87,885.5 1706.57,885.5 1707.28,885.5 1707.98,885.5 1708.69,885.5 1709.39,885.5 1710.1,885.5 1710.8,885.5 1711.51,885.5 1712.21,885.5 1712.92,885.5 1713.62,885.5 1714.33,885.5 1715.03,885.5 1715.74,885.5 1716.45,885.5 1717.15,885.5 1717.86,885.5 1718.56,885.5 1719.27,885.5 1719.97,885.5 1720.68,885.5 1721.38,885.5 1722.09,885.5 1722.79,885.5 1723.5,885.5 1724.2,885.5 1724.91,885.5 1725.61,885.5 1726.32,885.5 1727.02,885.5 1727.73,885.5 1728.43,885.5 1729.14,885.5 1729.84,885.5 1730.55,885.5 1731.25,885.5 1731.96,885.5 1732.66,885.5 1733.37,885.5 1734.07,885.5 1734.78,885.5 1735.49,885.5 1736.19,885.5 1736.9,885.5 1737.6,883.1 1738.31,883.1 1739.01,883 1739.72,883 1740.42,882.9 1741.13,882.9 1741.83,882.8 1742.54,882.7 1743.24,882.7 1743.95,882.6 1744.65,882.6 1745.36,882.5 1746.06,882.4 1746.77,882.4 1747.47,882.3 1748.18,882.2 1748.88,882.1 1749.59,882.1 1750.29,882 1751,881.9 1751.7,881.8 1752.41,881.7 1753.11,881.6 1753.82,881.5 1754.53,881.4 1755.23,881.3 1755.94,881.2 1756.64,881.1 1757.35,881 1758.05,880.8 1758.76,880.7 1759.46,880.6 1760.17,880.4 1760.87,880.3 1761.58,880.1 1762.28,880 1762.99,879.8 1763.69,879.7 1764.4,879.5 1765.1,879.3 1765.81,879.1 1766.51,878.9 1767.22,878.7 1767.92,878.5 1768.63,878.2 1769.33,878 1770.04,877.7 1770.74,877.5 1771.45,877.2 1772.15,876.9 1772.86,876.6 1773.57,876.3 1774.27,875.9 1774.98,875.6 1775.68,875.2 1776.39,874.8 1777.09,874.4 1777.8,873.9 1778.5,873.5 1779.21,872.9 1779.91,872.4 1780.62,871.8 1781.32,871.2 1782.03,870.6 1782.73,869.9 1783.44,869.2 1784.14,868.4 1784.85,867.5 1785.55,866.5 1786.26,865.5 1786.96,864.4 1787.67,863.2 1788.37,861.8 1789.08,860.3 1789.78,858.7 1790.49,856.8 1791.19,854.7 1791.9,852.4 1792.61,849.8 1793.31,846.8 1794.02,843.5 1794.72,839.7 1795.43,835.4 1796.13,830.6 1796.84,825.2 1797.54,819.2 1798.25,812.4 1798.95,805 1799.66,796.7 1800.36,787.6 1801.07,777.6 1801.77,766.8 1802.48,755.2 1803.18,742.9 1803.89,729.8 1804.59,716.2 1805.3,702.3 1806,688.3 1806.71,674.6 1807.41,661.5 1808.12,649.7 1808.82,639.7 1809.53,631.9 1810.23,626.9 1810.94,625 1811.65,626.3 1812.35,630.8 1813.06,638.1 1813.76,647.7 1814.47,659.2 1815.17,672 1815.88,685.6 1816.58,699.6 1817.29,713.5 1817.99,727.1 1818.7,740.2 1819.4,752.7 1820.11,764.4 1820.81,775.3 1821.52,785.3 1822.22,794.5 1822.93,802.9 1823.63,810.5 1824.34,817.3 1825.04,823.4 1825.75,828.9 1826.45,833.7 1827.16,838 1827.86,841.8 1828.57,845.2 1829.27,848.2 1829.98,850.8 1830.69,853.2 1831.39,855.3 1832.1,857.1 1832.8,858.8 1833.51,860.2 1834.21,861.6 1834.92,862.8 1835.62,863.9 1836.33,864.9 1837.03,865.8 1837.74,866.6 1838.44,867.4 1839.15,868.1 1839.85,868.8 1840.56,869.4 1841.26,870 1841.97,870.5 1842.67,871 1843.38,871.5 1844.08,871.9 1844.79,872.3 1845.49,872.7 1846.2,873.1 1846.9,873.4 1847.61,873.7 1848.31,874.1 1849.02,874.3 1849.73,874.6 1850.43,874.8 1851.14,875 1851.84,875.3 1852.55,875.5 1853.25,875.7 1853.96,875.9 1854.66,876.1 1855.37,876.2 1856.07,876.4 1856.78,876.6 1857.48,876.7 1858.19,876.9 1858.89,877 1859.6,877.1 1860.3,877.3 1861.01,877.4 1861.71,877.5 1862.42,877.6 1863.12,877.7 1863.83,877.8 1864.53,877.9 1865.24,878 1865.94,878.1 1866.65,878.1 1867.35,878.2 1868.06,878.3 1868.77,878.3 1869.47,878.4 1870.18,878.5 1870.88,878.5 1871.59,878.6 1872.29,878.6 1873,878.7 1873.7,878.7 1874.41,878.8 1875.11,878.8 1875.82,878.9 1876.52,878.9 1877.23,878.9 1877.93,879 1878.64,879 1879.34,879 1880.05,879.1 1880.75,879.1 1881.46,879.1 1882.16,879.1 1882.87,879.2 1883.57,879.2 1884.28,879.2 1884.98,879.2 1885.69,881.6 1886.39,881.5 1887.1,881.5 1887.81,881.5 1888.51,881.4 1889.22,881.4 1889.92,881.4 1890.63,881.3 1891.33,881.3 1892.04,881.3 1892.74,881.2 1893.45,881.2 1894.15,881.2 1894.86,881.1 1895.56,881.1 1896.27,881.1 1896.97,881 1897.68,881 1898.38,880.9 1899.09,880.9 1899.79,880.8 1900.5,880.8 1901.2,880.7 1901.91,880.7 1902.61,880.6 1903.32,880.5 1904.02,880.5 1904.73,880.4 1905.43,880.3 1906.14,880.2 1906.85,880.1 1907.55,880 1908.26,879.8 1908.96,879.7 1909.67,879.5 1910.37,879.4 1911.08,879.2 1911.78,879 1912.49,878.7 1913.19,878.5 1913.9,878.2 1914.6,877.9 1915.31,877.6 1916.01,877.3 1916.72,877 1917.42,876.6 1918.13,876.2 1918.83,875.8 1919.54,875.4 1920.24,875 1920.95,874.6 1921.65,874.2 1922.36,873.8 1923.06,873.5 1923.77,873.2 1924.47,873 1925.18,872.9 1925.89,872.8 1926.59,872.8 1927.3,872.9 1928,873.1 1928.71,873.3 1929.41,873.6 1930.12,873.9 1930.82,874.3 1931.53,874.6 1932.23,875 1932.94,875.4 1933.64,875.8 1934.35,876.1 1935.05,876.5 1935.76,876.8 1936.46,877.1 1937.17,877.4 1937.87,877.6 1938.58,877.9 1939.28,878.1 1939.99,878.3 1940.69,878.5 1941.4,878.6 1942.1,878.8 1942.81,878.9 1943.51,879 1944.22,879.1 1944.93,879.2 1945.63,879.3 1946.34,879.4 1947.04,879.4 1947.75,879.5 1948.45,879.5 1949.16,879.6 1949.86,879.6 1950.57,879.7 1951.27,879.7 1951.98,879.7 1952.68,879.7 1953.39,879.7 1954.09,879.8 1954.8,879.8 1955.5,879.8 1956.21,879.8 1956.91,879.8 1957.62,879.8 1958.32,879.8 1959.03,879.8 1959.73,879.8 1960.44,879.8 1961.14,879.8 1961.85,879.8 1962.55,879.8 1963.26,879.8 1963.97,879.8 1964.67,879.8 1965.38,879.8 1966.08,879.8 1966.79,879.8 1967.49,879.8 1968.2,879.8 1968.9,879.8 1969.61,879.8 1970.31,879.8 1971.02,879.8 1971.72,879.7 1972.43,879.7 1973.13,879.7 1973.84,879.7 1974.54,879.7 1975.25,879.7 1975.95,879.7 1976.66,879.7 1977.36,879.7 1978.07,879.7 1978.77,879.7 1979.48,879.6 1980.18,879.6 1980.89,879.6 1981.59,879.6 1982.3,879.6 1983.01,879.6 1983.71,879.6 1984.42,879.6 1985.12,879.6 1985.83,879.6 1986.53,879.5 1987.24,879.5 1987.94,879.5 1988.65,879.5 1989.35,879.5 1990.06,879.5 1990.76,879.5 1991.47,879.5 1992.17,879.5 1992.88,879.4 1993.58,879.4 1994.29,879.4 1994.99,879.4 1995.7,879.4 1996.4,879.4 1997.11,879.4 1997.81,879.4 1998.52,879.4 1999.22,879.3 1999.93,879.3 2000.63,879.3 2001.34,879.3 2002.05,879.4 2002.75,879.4 2003.46,879.4 2004.16,879.3 2004.87,879.3 2005.57,879.3 2006.28,879.3 2006.98,879.3 2007.69,879.3 2008.39,879.3 2009.1,879.2 2009.8,879.2 2010.51,879.2 2011.21,879.2 2011.92,879.2 2012.62,879.2 2013.33,879.2 2014.03,879.1 2014.74,879.1 2015.44,879.1 2016.15,879.1 2016.85,879.1 2017.56,879.1 2018.26,879.1 2018.97,879.1 2019.67,879 2020.38,879 2021.09,879 2021.79,879 2022.5,879 2023.2,879 2023.91,879 2024.61,878.9 2025.32,878.9 2026.02,878.9 2026.73,878.9 2027.43,878.9 2028.14,878.9 2028.84,878.9 2029.55,878.9 2030.25,878.8 2030.96,878.8 2031.66,878.8 2032.37,878.8 2033.07,878.8 2033.78,878.8 2034.48,878.8 2035.19,878.8 2035.89,878.7 2036.6,878.7 2037.3,878.7 2038.01,878.7 2038.71,878.7 2039.42,878.7 2040.13,878.7 2040.83,878.7 2041.54,878.6 2042.24,878.6 2042.95,878.6 2043.65,878.6 2044.36,878.6 2045.06,878.6 2045.77,878.6 2046.47,878.5 2047.18,878.5 2047.88,878.5 2048.59,878.5 2049.29,878.5 2050,878.5 2050.7,878.5 2051.41,878.5 2052.11,878.4 2052.82,878.4 2053.52,878.4 2054.23,878.4 2054.93,878.4 2055.64,878.4 2056.34,878.4 2057.05,878.4 2057.75,878.3 2058.46,878.3 2059.17,878.3 2059.87,878.3 2060.58,878.3 2061.28,878.3 2061.99,878.3 2062.69,878.3 2063.4,878.2 2064.1,878.2 2064.81,878.2 2065.51,878.2 2066.22,878.2 2066.92,878.2 2067.63,878.2 2068.33,878.2 2069.04,878.2 2069.74,878.1 2070.45,878.1 2071.15,878.1 2071.86,878.1 2072.56,878.1 2073.27,878.1 2073.97,878.1 2074.68,878.1 2075.38,878 2076.09,878 2076.79,878 2077.5,878"/>
<polyline fill="none" stroke="#0000ff" stroke-width="2.4" stroke-linejoin="miter" points="173.5,1287.4 174.21,1302 174.91,1300.5 175.62,1281.4 176.32,1283.7 177.03,1281.2 177.73,1293.3 178.44,1286.4 179.14,1295.2 179.85,1266.7 180.55,1304.2 181.26,1285.9 181.96,1294.5 182.67,1285.5 183.37,1282.8 184.08,1292.1 184.78,1296.1 185.49,1284.8 186.19,1285.3 186.9,1294.5 187.6,1277.4 188.31,1270.3 189.01,1291.3 189.72,1279.6 190.42,1265.9 191.13,1278 191.83,1281.9 192.54,1273.9 193.25,1270.6 193.95,1287.4 194.66,1296.9 195.36,1284.4 196.07,1278.8 196.77,1291.2 197.48,1294.9 198.18,1283.7 198.89,1293 199.59,1298.5 200.3,1284.7 201,1278.1 201.71,1290.8 202.41,1289.7 203.12,1299.1 203.82,1272.9 204.53,1279.7 205.23,1277.8 205.94,1267.9 206.64,1288.4 207.35,1292.8 208.05,1278.9 208.76,1302.2 209.46,1296 210.17,1293.9 210.87,1291.4 211.58,1297.5 212.29,1272.3 212.99,1293.8 213.7,1293.6 214.4,1267.6 215.11,1290.8 215.81,1284.2 216.52,1295.6 217.22,1282.2 217.93,1286.8 218.63,1290.8 219.34,1277.4 220.04,1293.6 220.75,1285.8 221.45,1292.4 222.16,1281.3 222.86,1298.9 223.57,1293.7 224.27,1285 224.98,1294 225.68,1300.9 226.39,1306.7 227.09,1269.7 227.8,1296.7 228.5,1292.1 229.21,1286 229.91,1275.9 230.62,1300.8 231.33,1273.1 232.03,1293.2 232.74,1301.3 233.44,1269.4 234.15,1283.7 234.85,1272.6 235.56,1289.7 236.26,1303.7 236.97,1309.3 237.67,1267.4 238.38,1280.7 239.08,1294.7 239.79,1304.4 240.49,1291.6 241.2,1278.8 241.9,1290.3 242.61,1286.8 243.31,1284.8 244.02,1278.9 244.72,1291.3 245.43,1290.4 246.13,1286 246.84,1284.6 247.54,1272.9 248.25,1281.7 248.95,1300.3 249.66,1284.9 250.37,1271.2 251.07,1301.7 251.78,1292.8 252.48,1310.2 253.19,1287.7 253.89,1281.9 254.6,1271.1 255.3,1301.6 256.01,1315.3 256.71,1278 257.42,1279.9 258.12,1293.6 258.83,1277.9 259.53,1284 260.24,1283.2 260.94,1289.1 261.65,1299 262.35,1287.2 263.06,1297.1 263.76,1282.4 264.47,1290.6 265.17,1263.5 265.88,1271.1 266.58,1295.8 267.29,1280.5 267.99,1293.4 268.7,1293 269.41,1301.5 270.11,1295.9 270.82,1298.2 271.52,1285.8 272.23,1279.3 272.93,1279 273.64,1281.6 274.34,1274.6 275.05,1281 275.75,1286 276.46,1289.8 277.16,1283.3 277.87,1265.8 278.57,1286.2 279.28,1289.5 279.98,1298.9 280.69,1293.4 281.39,1279.9 282.1,1279 282.8,1309.1 283.51,1295.3 284.21,1307.1 284.92,1310.4 285.62,1278 286.33,1291.2 287.03,1292 287.74,1293.2 288.45,1293 289.15,1289.2 289.86,1288.9 290.56,1270.5 291.27,1285.2 291.97,1278.8 292.68,1288.4 293.38,1281.9 294.09,1293.8 294.79,1296 295.5,1290.4 296.2,1290.5 296.91,1288 297.61,1282.1 298.32,1285.2 299.02,1281.5 299.73,1291.3 300.43,1287.2 301.14,1293.4 301.84,1272.4 302.55,1296.8 303.25,1278.6 303.96,1278.9 304.66,1284.8 305.37,1280.8 306.07,1290.2 306.78,1280.7 307.49,1275.2 308.19,1277.7 308.9,1301.4 309.6,1287.5 310.31,1274.2 311.01,1287.1 311.72,1269.9 312.42,1306.7 313.13,1270.2 313.83,1292.3 314.54,1293 315.24,1271 315.95,1290.3 316.65,1298 317.36,1292.1 318.06,1289.9 318.77,1297.4 319.47,1288.8 320.18,1290.7 320.88,1285.6 321.59,1293.9 322.29,1276.6 323,1295.7 323.7,1281.4 324.41,1275 325.11,1291 325.82,1305.6 326.53,1297.6 327.23,1281.3 327.94,1294.7 328.64,1282 329.35,1285.6 330.05,1288 330.76,1261.5 331.46,1289.1 332.17,1275.7 332.87,1279.3 333.58,1270.8 334.28,1270.3 334.99,1276.6 335.69,1296.1 336.4,1305.3 337.1,1286.7 337.81,1299 338.51,1284.1 339.22,1266 339.92,1288.6 340.63,1291.9 341.33,1282.3 342.04,1290.3 342.74,1293.3 343.45,1277.5 344.15,1270.8 344.86,1284.6 345.57,1284.7 346.27,1283.1 346.98,1297.9 347.68,1306 348.39,1282.4 349.09,1294.7 349.8,1297.4 350.5,1294.8 351.21,1298.5 351.91,1282.7 352.62,1295.1 353.32,1309.3 354.03,1295.8 354.73,1280.2 355.44,1293.7 356.14,1300.9 356.85,1291.1 357.55,1280.8 358.26,1304 358.96,1273.3 359.67,1292.5 360.37,1286.8 361.08,1273.9 361.78,1300.4 362.49,1290.8 363.19,1274.2 363.9,1293.6 364.61,1282.3 365.31,1266.1 366.02,1279.4 366.72,1289.9 367.43,1294 368.13,1288.8 368.84,1287.5 369.54,1292.2 370.25,1284.7 370.95,1299.9 371.66,1288.6 372.36,1290.2 373.07,1292.9 373.77,1275.4 374.48,1279.2 375.18,1303.8 375.89,1290.7 376.59,1283.9 377.3,1290.8 378,1281.7 378.71,1290.1 379.41,1279.7 380.12,1290 380.82,1269.6 381.53,1301.6 382.23,1281.4 382.94,1269.6 383.65,1284.5 384.35,1282.9 385.06,1288.7 385.76,1274.4 386.47,1291.4 387.17,1321 387.88,1272.9 388.58,1290.7 389.29,1283.6 389.99,1289.1 390.7,1267.1 391.4,1274.3 392.11,1292.1 392.81,1286.6 393.52,1305 394.22,1279.2 394.93,1288.9 395.63,1319 396.34,1278.6 397.04,1277.1 397.75,1286.6 398.45,1286.5 399.16,1296.3 399.86,1288.4 400.57,1278.7 401.27,1289.3 401.98,1316 402.69,1301 403.39,1256.4 404.1,1285.4 404.8,1277.4 405.51,1293.8 406.21,1285.1 406.92,1308.3 407.62,1297.2 408.33,1296.8 409.03,1289.1 409.74,1286.6 410.44,1290.7 411.15,1301.2 411.85,1292.9 412.56,1283.1 413.26,1301 413.97,1289.1 414.67,1286.1 415.38,1278.3 416.08,1280.8 416.79,1280 417.49,1256.3 418.2,1298.2 418.9,1293.2 419.61,1284.6 420.31,1298.5 421.02,1291.8 421.73,1291.1 422.43,1259.8 423.14,1284.4 423.84,1292.9 424.55,1304.7 425.25,1307.2 425.96,1302.7 426.66,1274.2 427.37,1262.8 428.07,1293.3 428.78,1287.3 429.48,1297.6 430.19,1285.6 430.89,1289.4 431.6,1270.5 432.3,1291.9 433.01,1282.1 433.71,1290.8 434.42,1292.1 435.12,1285.7 435.83,1290.5 436.53,1286.9 437.24,1295.4 437.94,1292.5 438.65,1281 439.35,1280.5 440.06,1306.2 440.77,1285.9 441.47,1297.9 442.18,1291.3 442.88,1280.8 443.59,1278.8 444.29,1288.3 445,1289.8 445.7,1293.8 446.41,1273.1 447.11,1280.5 447.82,1286 448.52,1304.6 449.23,1261 449.93,1291.8 450.64,1281.1 451.34,1291.7 452.05,1281.6 452.75,1291 453.46,1304.2 454.16,1290.9 454.87,1291.8 455.57,1291.1 456.28,1278.7 456.98,1293 457.69,1284.7 458.39,1278.1 459.1,1286.6 459.81,1284.5 460.51,1295.3 461.22,1286.5 461.92,1281.2 462.63,1303 463.33,1297.9 464.04,1301 464.74,1293.7 465.45,1285.8 466.15,1282.4 466.86,1283.9 467.56,1297.4 468.27,1288.2 468.97,1270.7 469.68,1286.6 470.38,1271.4 471.09,1288.8 471.79,1273.8 472.5,1273.1 473.2,1288.3 473.91,1286.1 474.61,1268.7 475.32,1295.2 476.02,1310.8 476.73,1270.7 477.43,1307 478.14,1279.4 478.85,1281.6 479.55,1285 480.26,1271.1 480.96,1301.3 481.67,1292.4 482.37,1278.7 483.08,1284 483.78,1270.3 484.49,1283.2 485.19,1297.3 485.9,1268.1 486.6,1282.2 487.31,1288.6 488.01,1298.5 488.72,1301.8 489.42,1282 490.13,1278.9 490.83,1292 491.54,1283 492.24,1283.6 492.95,1298.9 493.65,1305.6 494.36,1289.9 495.06,1284.9 495.77,1293.3 496.47,1266.2 497.18,1286.8 497.89,1275.3 498.59,1313.3 499.3,1294.9 500,1288.6 500.71,1284.9 501.41,1259.3 502.12,1294.8 502.82,1304.9 503.53,1279 504.23,1294.5 504.94,1294.9 505.64,1270 506.35,1297.3 507.05,1301.9 507.76,1289.5 508.46,1286.3 509.17,1295.7 509.87,1270.1 510.58,1288 511.28,1298.6 511.99,1273.3 512.69,1297.9 513.4,1282.4 514.1,1264.1 514.81,1285.8 515.51,1276.3 516.22,1290.5 516.93,1274.1 517.63,1298.6 518.34,1278.9 519.04,1290.9 519.75,1280.5 520.45,1283.4 521.16,1300.1 521.86,1289.4 522.57,1282.7 523.27,1273.2 523.98,1299.8 524.68,1295.1 525.39,1283.4 526.09,1289.7 526.8,1275.7 527.5,1275.8 528.21,1277.9 528.91,1290.9 529.62,1290.3 530.32,1278.8 531.03,1295.1 531.73,1295.6 532.44,1288.9 533.14,1298.4 533.85,1283.8 534.55,1285.8 535.26,1292.2 535.97,1286.6 536.67,1295.7 537.38,1273.2 538.08,1302.7 538.79,1278.4 539.49,1285.2 540.2,1271.8 540.9,1293.6 541.61,1301 542.31,1298.8 543.02,1296.2 543.72,1269.9 544.43,1278.4 545.13,1281.9 545.84,1276.7 546.54,1299.3 547.25,1289 547.95,1286.7 548.66,1292.4 549.36,1276.5 550.07,1277 550.77,1277.3 551.48,1292.5 552.18,1290.8 552.89,1293.4 553.59,1298.9 554.3,1272.1 555.01,1280.8 555.71,1288.6 556.42,1272.2 557.12,1281.1 557.83,1298.2 558.53,1299.1 559.24,1298.8 559.94,1287.5 560.65,1284.7 561.35,1298.9 562.06,1282.9 562.76,1290.7 563.47,1301.6 564.17,1283 564.88,1280.3 565.58,1286.9 566.29,1293.6 566.99,1292.3 567.7,1288.7 568.4,1293.1 569.11,1269.4 569.81,1277.5 570.52,1288.8 571.22,1276.8 571.93,1272.2 572.63,1273.7 573.34,1276.9 574.05,1285 574.75,1275.8 575.46,1289.6 576.16,1305.7 576.87,1285.4 577.57,1301 578.28,1290.2 578.98,1274.7 579.69,1284.2 580.39,1276.2 581.1,1295.4 581.8,1274.3 582.51,1301.5 583.21,1293.4 583.92,1264.8 584.62,1295.6 585.33,1304.1 586.03,1278.3 586.74,1297.8 587.44,1267.2 588.15,1289.8 588.85,1268.7 589.56,1292.3 590.26,1267.3 590.97,1258 591.67,1291.4 592.38,1312.2 593.09,1280.4 593.79,1296.1 594.5,1288.2 595.2,1283.4 595.91,1293.8 596.61,1305.1 597.32,1273.4 598.02,1293.2 598.73,1290.8 599.43,1271.3 600.14,1304.8 600.84,1308.4 601.55,1276.5 602.25,1306.1 602.96,1287.6 603.66,1285.2 604.37,1303.5 605.07,1289.5 605.78,1290.6 606.48,1303.7 607.19,1301.2 607.89,1296.8 608.6,1271.6 609.3,1269.7 610.01,1299.4 610.71,1276.8 611.42,1288.6 612.13,1275.2 612.83,1285 613.54,1272.9 614.24,1304.9 614.95,1275.8 615.65,1285.7 616.36,1284.9 617.06,1300.3 617.77,1271.4 618.47,1286.6 619.18,1284.7 619.88,1292.8 620.59,1292.2 621.29,1281.9 622,1289.6 622.7,1282.9 623.41,1292.1 624.11,1285.9 624.82,1279.8 625.52,1286.7 626.23,1291 626.93,1311.9 627.64,1281.6 628.34,1290.4 629.05,1303.1 629.75,1264.1 630.46,1267.8 631.17,1273.9 631.87,1285.7 632.58,1313.8 633.28,1291.3 633.99,1300.3 634.69,1284.6 635.4,1259.9 636.1,1261.5 636.81,1298.2 637.51,1289 638.22,1272.7 638.92,1299.3 639.63,1270.1 640.33,1299.5 641.04,1303 641.74,1278.6 642.45,1274.8 643.15,1296.3 643.86,1275 644.56,1296.5 645.27,1273.9 645.97,1295.9 646.68,1288 647.38,1282.2 648.09,1277.1 648.79,1289.6 649.5,1266.2 650.21,1284 650.91,1282.6 651.62,1294.5 652.32,1273.2 653.03,1305.8 653.73,1283.6 654.44,1274.5 655.14,1302.2 655.85,1305.3 656.55,1284.9 657.26,1277.2 657.96,1287.2 658.67,1279.4 659.37,1283.6 660.08,1304.1 660.78,1291.3 661.49,1288.6 662.19,1290.8 662.9,1286.4 663.6,1296.3 664.31,1296.7 665.01,1282.9 665.72,1288.2 666.42,1313.5 667.13,1291.6 667.83,1285 668.54,1309.5 669.25,1287.1 669.95,1274.9 670.66,1294.4 671.36,1277.1 672.07,1281.5 672.77,1290.6 673.48,1285.6 674.18,1278.6 674.89,1280.9 675.59,1280.5 676.3,1299.8 677,1279.1 677.71,1280.7 678.41,1309.4 679.12,1280.9 679.82,1303.4 680.53,1301.5 681.23,1285.3 681.94,1271.4 682.64,1292 683.35,1294.4 684.05,1297.6 684.76,1287.8 685.46,1300.3 686.17,1302.3 686.87,1275.4 687.58,1302.7 688.29,1288.9 688.99,1280.8 689.7,1283.5 690.4,1307.7 691.11,1297.8 691.81,1267.3 692.52,1287.9 693.22,1285.5 693.93,1285.1 694.63,1281.4 695.34,1271 696.04,1296.5 696.75,1276.7 697.45,1282.9 698.16,1280.4 698.86,1279 699.57,1295.2 700.27,1291.2 700.98,1279.6 701.68,1276.6 702.39,1281.8 703.09,1297.6 703.8,1288.4 704.5,1289.6 705.21,1283.4 705.91,1284.2 706.62,1289.4 707.33,1266.7 708.03,1304.7 708.74,1278.3 709.44,1280.7 710.15,1301.7 710.85,1289.4 711.56,1287.5 712.26,1280.6 712.97,1269.8 713.67,1289 714.38,1300.1 715.08,1277.1 715.79,1302 716.49,1274.6 717.2,1278.9 717.9,1292.6 718.61,1287 719.31,1294.6 720.02,1278.8 720.72,1275.7 721.43,1266.5 722.13,1273.8 722.84,1275.2 723.54,1271.3 724.25,1290.4 724.95,1279.7 725.66,1265.1 726.37,1314.3 727.07,1277.8 727.78,1273.2 728.48,1300.6 729.19,1299.8 729.89,1274.3 730.6,1270.8 731.3,1276 732.01,1299.4 732.71,1283.6 733.42,1278.1 734.12,1286.7 734.83,1300.2 735.53,1271.7 736.24,1282.8 736.94,1271.8 737.65,1310.9 738.35,1307 739.06,1297.5 739.76,1285.5 740.47,1294.3 741.17,1263.9 741.88,1290 742.58,1272.3 743.29,1272.4 743.99,1279.2 744.7,1283.1 745.41,1293.3 746.11,1294.7 746.82,1289.9 747.52,1276.6 748.23,1294.4 748.93,1285.7 749.64,1300 750.34,1276.9 751.05,1256.6 751.75,1281.8 752.46,1310.7 753.16,1292.2 753.87,1284.9 754.57,1296.7 755.28,1292.5 755.98,1292.1 756.69,1281.4 757.39,1287.8 758.1,1289.2 758.8,1279.9 759.51,1274.7 760.21,1288.5 760.92,1297.7 761.62,1294.1 762.33,1292.4 763.03,1292.5 763.74,1315.4 764.45,1289.9 765.15,1298.5 765.86,1308.5 766.56,1287.6 767.27,1289.9 767.97,1298.5 768.68,1305.6 769.38,1290.4 770.09,1291 770.79,1288 771.5,1273.7 772.2,1299.3 772.91,1284.2 773.61,1268.1 774.32,1285.4 775.02,1268 775.73,1275.9 776.43,1287.2 777.14,1276.9 777.84,1298.8 778.55,1270.9 779.25,1290 779.96,1293.2 780.66,1303.1 781.37,1297.2 782.07,1289.7 782.78,1288 783.49,1286.4 784.19,1299.6 784.9,1279.9 785.6,1292.8 786.31,1286.1 787.01,1289.8 787.72,1284.2 788.42,1310.6 789.13,1279.9 789.83,1289.9 790.54,1290.2 791.24,1293.8 791.95,1292.1 792.65,1291.8 793.36,1297.9 794.06,1270.6 794.77,1287.2 795.47,1273.6 796.18,1289.7 796.88,1274.1 797.59,1276.6 798.29,1286.5 799,1302.5 799.7,1293.5 800.41,1290.4 801.11,1302.6 801.82,1276.7 802.53,1264.1 803.23,1282.5 803.94,1284.1 804.64,1300.7 805.35,1310.7 806.05,1272.5 806.76,1314.4 807.46,1304.4 808.17,1296.4 808.87,1291.2 809.58,1313.8 810.28,1288 810.99,1281.9 811.69,1288.7 812.4,1272.1 813.1,1292.3 813.81,1285.9 814.51,1290.8 815.22,1291.1 815.92,1275.5 816.63,1301.6 817.33,1276 818.04,1296.9 818.74,1269.6 819.45,1291.2 820.15,1278.1 820.86,1287.6 821.57,1280 822.27,1263.1 822.98,1274.9 823.68,1287.9 824.39,1294 825.09,1271 825.8,1263.8 826.5,1277.6 827.21,1284.8 827.91,1280.2 828.62,1278.3 829.32,1296.5 830.03,1297.8 830.73,1295.3 831.44,1276.9 832.14,1288 832.85,1285 833.55,1271.5 834.26,1296.9 834.96,1288.1 835.67,1281.8 836.37,1302.8 837.08,1295.6 837.78,1296.6 838.49,1300.4 839.19,1295.1 839.9,1273.2 840.61,1282.9 841.31,1298.2 842.02,1278.7 842.72,1287.6 843.43,1291.5 844.13,1303 844.84,1301.4 845.54,1297 846.25,1285.1 846.95,1297.2 847.66,1293 848.36,1285.4 849.07,1302.1 849.77,1292.6 850.48,1278.8 851.18,1301.1 851.89,1284.3 852.59,1293.7 853.3,1270.4 854,1286.9 854.71,1276.7 855.41,1276.4 856.12,1266.1 856.82,1310.7 857.53,1285.5 858.23,1289.7 858.94,1299.3 859.65,1285.8 860.35,1292.8 861.06,1272.2 861.76,1289.3 862.47,1282.6 863.17,1292.6 863.88,1289.1 864.58,1271.9 865.29,1266.7 865.99,1275.9 866.7,1295.2 867.4,1291.8 868.11,1291.5 868.81,1264.9 869.52,1257.5 870.22,1280.2 870.93,1283.4 871.63,1280.4 872.34,1291 873.04,1285.2 873.75,1274 874.45,1277.4 875.16,1288.6 875.86,1287.9 876.57,1286.2 877.27,1312 877.98,1284.2 878.69,1288.4 879.39,1276.1 880.1,1283.1 880.8,1292.8 881.51,1293.3 882.21,1285.3 882.92,1291.4 883.62,1287.6 884.33,1266.3 885.03,1253 885.74,1312.4 886.44,1296.1 887.15,1286.4 887.85,1267.9 888.56,1273 889.26,1301.9 889.97,1256.3 890.67,1283.4 891.38,1296.6 892.08,1288.6 892.79,1295.3 893.49,1285.6 894.2,1313.3 894.9,1275.7 895.61,1272 896.31,1290 897.02,1302.7 897.73,1286.4 898.43,1298.5 899.14,1281.2 899.84,1274 900.55,1302.4 901.25,1304.3 901.96,1303.9 902.66,1282.2 903.37,1274.3 904.07,1274.1 904.78,1284.5 905.48,1293.4 906.19,1292.6 906.89,1271.2 907.6,1289.1 908.3,1287.2 909.01,1288 909.71,1286.7 910.42,1284.8 911.12,1293.5 911.83,1288.4 912.53,1289.5 913.24,1279.4 913.94,1291.4 914.65,1285.7 915.35,1263.7 916.06,1292.3 916.77,1284.1 917.47,1297.2 918.18,1285.2 918.88,1285.9 919.59,1289.3 920.29,1286.9 921,1282.1 921.7,1267.3 922.41,1307.3 923.11,1269.6 923.82,1283.2 924.52,1294.2 925.23,1291.2 925.93,1293.2 926.64,1295.5 927.34,1300.9 928.05,1290.3 928.75,1319 929.46,1275.9 930.16,1289.5 930.87,1283 931.57,1281 932.28,1290.2 932.98,1303 933.69,1279.2 934.39,1279.2 935.1,1295 935.81,1293 936.51,1308.5 937.22,1298.3 937.92,1289.5 938.63,1283.4 939.33,1289.4 940.04,1285.1 940.74,1272 941.45,1287.1 942.15,1285.1 942.86,1284.4 943.56,1282.3 944.27,1305.6 944.97,1294.7 945.68,1297.3 946.38,1280.3 947.09,1275.8 947.79,1283.9 948.5,1289.7 949.2,1283.2 949.91,1284.9 950.61,1297.6 951.32,1290.3 952.02,1276.2 952.73,1282.3 953.43,1279.8 954.14,1289 954.85,1274.2 955.55,1285 956.26,1294.6 956.96,1287.3 957.67,1276.9 958.37,1280.2 959.08,1288.4 959.78,1292.3 960.49,1296.2 961.19,1285.4 961.9,1272.5 962.6,1302.7 963.31,1290.3 964.01,1291.5 964.72,1290.4 965.42,1275.6 966.13,1283.5 966.83,1289.8 967.54,1298.4 968.24,1287.7 968.95,1253 969.65,1284.3 970.36,1290.9 971.06,1301.2 971.77,1294.8 972.47,1314.4 973.18,1302.7 973.89,1301.8 974.59,1297.4 975.3,1271.8 976,1296.3 976.71,1293.6 977.41,1281.2 978.12,1293.5 978.82,1291.6 979.53,1281.9 980.23,1285.6 980.94,1284.1 981.64,1289.5 982.35,1282.3 983.05,1293 983.76,1265.9 984.46,1283.9 985.17,1268.5 985.87,1281.7 986.58,1292.7 987.28,1287.2 987.99,1285.8 988.69,1287.8 989.4,1304.3 990.1,1274.8 990.81,1296.8 991.51,1270.4 992.22,1281.9 992.93,1288.8 993.63,1277.6 994.34,1289.3 995.04,1295 995.75,1273.9 996.45,1286.1 997.16,1282.9 997.86,1265.7 998.57,1284.9 999.27,1278.2 999.98,1301.7 1000.68,1277.4 1001.39,1305.7 1002.09,1281.1 1002.8,1308.3 1003.5,1292.9 1004.21,1292 1004.91,1295.9 1005.62,1296.9 1006.32,1302.4 1007.03,1306.1 1007.73,1283.2 1008.44,1273.2 1009.14,1257.6 1009.85,1282.7 1010.55,1295.4 1011.26,1291.2 1011.97,1288.3 1012.67,1283.1 1013.38,1280 1014.08,1283.9 1014.79,1291.3 1015.49,1267.6 1016.2,1295 1016.9,1271 1017.61,1285.3 1018.31,1280 1019.02,1282.9 1019.72,1275.5 1020.43,1274.3 1021.13,1284.4 1021.84,1275 1022.54,1314 1023.25,1282.4 1023.95,1279.7 1024.66,1280.9 1025.36,1275.1 1026.07,1259.9 1026.77,1284.1 1027.48,1290.3 1028.18,1270.4 1028.89,1287 1029.59,1273.6 1030.3,1286.5 1031.01,1290.9 1031.71,1292.3 1032.42,1291.7 1033.12,1279.2 1033.83,1296.6 1034.53,1282 1035.24,1290.8 1035.94,1294.7 1036.65,1283.6 1037.35,1272.8 1038.06,1293.7 1038.76,1274.6 1039.47,1277.1 1040.17,1274.8 1040.88,1296.2 1041.58,1285.1 1042.29,1262.2 1042.99,1295 1043.7,1309.7 1044.4,1306.7 1045.11,1280.7 1045.81,1287.7 1046.52,1292.5 1047.22,1296.7 1047.93,1287.3 1048.63,1274.9 1049.34,1295.2 1050.05,1293.7 1050.75,1272.3 1051.46,1282.8 1052.16,1289.8 1052.87,1286.9 1053.57,1292.6 1054.28,1295.6 1054.98,1292.8 1055.69,1285.6 1056.39,1272 1057.1,1293.6 1057.8,1302.3 1058.51,1308.6 1059.21,1286.5 1059.92,1286.5 1060.62,1302.8 1061.33,1302.7 1062.03,1290.6 1062.74,1294.7 1063.44,1278.5 1064.15,1293.3 1064.85,1277.8 1065.56,1285.3 1066.26,1285.5 1066.97,1281.7 1067.67,1263.6 1068.38,1277.8 1069.09,1290.5 1069.79,1286.2 1070.5,1282.5 1071.2,1291.6 1071.91,1294.4 1072.61,1296.2 1073.32,1278 1074.02,1287.1 1074.73,1283.2 1075.43,1277.2 1076.14,1270.4 1076.84,1285.7 1077.55,1277.2 1078.25,1310.5 1078.96,1285.7 1079.66,1284.3 1080.37,1282.4 1081.07,1307.4 1081.78,1276.5 1082.48,1285 1083.19,1278.4 1083.89,1285.4 1084.6,1286.4 1085.3,1298.9 1086.01,1271.2 1086.71,1286.6 1087.42,1304.6 1088.13,1281.2 1088.83,1284.9 1089.54,1277.1 1090.24,1258 1090.95,1285.7 1091.65,1299.7 1092.36,1281.7 1093.06,1266.5 1093.77,1289.7 1094.47,1287.7 1095.18,1297.8 1095.88,1296.8 1096.59,1283.8 1097.29,1291.2 1098,1267 1098.7,1299.1 1099.41,1288.9 1100.11,1298.8 1100.82,1298.5 1101.52,1283.7 1102.23,1285.2 1102.93,1277.2 1103.64,1264.1 1104.34,1285.4 1105.05,1288.5 1105.75,1274.9 1106.46,1294.6 1107.17,1287.9 1107.87,1291.8 1108.58,1278.3 1109.28,1267.4 1109.99,1295.4 1110.69,1293.5 1111.4,1285.6 1112.1,1282.2 1112.81,1283.8 1113.51,1285.3 1114.22,1281.2 1114.92,1264.7 1115.63,1295.4 1116.33,1270.4 1117.04,1283.2 1117.74,1283.4 1118.45,1289.7 1119.15,1269.1 1119.86,1300.1 1120.56,1294 1121.27,1295.3 1121.97,1300.8 1122.68,1278.1 1123.38,1253 1124.09,1290.5 1124.79,1301.3 1125.5,1299.7 1126.21,1281 1126.91,1285.9 1127.62,1290.1 1128.32,1267 1129.03,1279.6 1129.73,1279.9 1130.44,1304.3 1131.14,1279.8 1131.85,1304.2 1132.55,1287.1 1133.26,1268.5 1133.96,1311.4 1134.67,1276.3 1135.37,1293.8 1136.08,1305.8 1136.78,1281.1 1137.49,1273.5 1138.19,1298.5 1138.9,1287.7 1139.6,1273.5 1140.31,1275.1 1141.01,1282.7 1141.72,1297.6 1142.42,1283.8 1143.13,1294.2 1143.83,1305.2 1144.54,1301 1145.25,1302.8 1145.95,1300.6 1146.66,1269.3 1147.36,1300.5 1148.07,1290.6 1148.77,1285.6 1149.48,1275.1 1150.18,1269.5 1150.89,1274.8 1151.59,1286.8 1152.3,1274.1 1153,1278 1153.71,1280.2 1154.41,1294.3 1155.12,1283.8 1155.82,1285.4 1156.53,1301.6 1157.23,1283.5 1157.94,1293.6 1158.64,1275.4 1159.35,1290.6 1160.05,1288.3 1160.76,1288.9 1161.46,1281.9 1162.17,1275.7 1162.87,1283.7 1163.58,1281.9 1164.29,1298.4 1164.99,1297 1165.7,1273.8 1166.4,1293.9 1167.11,1281.7 1167.81,1292 1168.52,1281.7 1169.22,1270.8 1169.93,1298.2 1170.63,1292 1171.34,1273.5 1172.04,1266.2 1172.75,1281.1 1173.45,1274 1174.16,1283 1174.86,1293.8 1175.57,1303.2 1176.27,1283.1 1176.98,1302.2 1177.68,1299.8 1178.39,1282.2 1179.09,1268.7 1179.8,1296.4 1180.5,1293.7 1181.21,1312.9 1181.91,1302.7 1182.62,1295.6 1183.33,1305.6 1184.03,1275.5 1184.74,1289.2 1185.44,1284 1186.15,1306.2 1186.85,1293.3 1187.56,1253.4 1188.26,1302.1 1188.97,1277.1 1189.67,1295.6 1190.38,1281.8 1191.08,1289.8 1191.79,1294.1 1192.49,1289.3 1193.2,1276.6 1193.9,1302.5 1194.61,1291.5 1195.31,1287 1196.02,1294.9 1196.72,1281.3 1197.43,1307.9 1198.13,1289.7 1198.84,1291.2 1199.54,1291 1200.25,1277.2 1200.95,1274.3 1201.66,1289.6 1202.37,1291.1 1203.07,1302 1203.78,1292.2 1204.48,1275.2 1205.19,1293 1205.89,1296.3 1206.6,1298.2 1207.3,1290.9 1208.01,1273.8 1208.71,1300 1209.42,1279.2 1210.12,1293.5 1210.83,1269.9 1211.53,1295.6 1212.24,1278.6 1212.94,1299.1 1213.65,1306.6 1214.35,1300.1 1215.06,1274.4 1215.76,1276.8 1216.47,1277.6 1217.17,1294.5 1217.88,1291 1218.58,1288.9 1219.29,1290.6 1219.99,1293.6 1220.7,1294.4 1221.41,1305.8 1222.11,1286.6 1222.82,1289.4 1223.52,1266.8 1224.23,1272.6 1224.93,1279.5 1225.64,1274.1 1226.34,1289.6 1227.05,1298.6 1227.75,1282.3 1228.46,1281.8 1229.16,1281.5 1229.87,1288.5 1230.57,1281.1 1231.28,1291.8 1231.98,1290.4 1232.69,1290.9 1233.39,1295.5 1234.1,1287.4 1234.8,1288.6 1235.51,1306.4 1236.21,1286.5 1236.92,1295.8 1237.62,1287.6 1238.33,1282 1239.03,1282 1239.74,1278 1240.45,1287.1 1241.15,1280.3 1241.86,1282.3 1242.56,1300.4 1243.27,1285.5 1243.97,1299.5 1244.68,1289.9 1245.38,1296.5 1246.09,1280.3 1246.79,1288.6 1247.5,1316 1248.2,1296.1 1248.91,1298 1249.61,1289.5 1250.32,1296.4 1251.02,1274.2 1251.73,1277.6 1252.43,1291.7 1253.14,1296 1253.84,1282.4 1254.55,1284.9 1255.25,1282.9 1255.96,1284.9 1256.66,1273.7 1257.37,1271.1 1258.07,1286 1258.78,1267.8 1259.49,1276.1 1260.19,1279.6 1260.9,1275.3 1261.6,1289.5 1262.31,1281.9 1263.01,1285.9 1263.72,1275.7 1264.42,1278.6 1265.13,1292.4 1265.83,1290.8 1266.54,1281.6 1267.24,1290.8 1267.95,1288.8 1268.65,1288.5 1269.36,1304.3 1270.06,1282.3 1270.77,1291.3 1271.47,1291.3 1272.18,1284.1 1272.88,1273.9 1273.59,1294.3 1274.29,1289.5 1275,1287.2 1275.7,1286.9 1276.41,1286.9 1277.11,1276.8 1277.82,1289.8 1278.53,1266.7 1279.23,1286.3 1279.94,1270.1 1280.64,1282.7 1281.35,1294.4 1282.05,1283.7 1282.76,1281.2 1283.46,1292.1 1284.17,1283.5 1284.87,1282 1285.58,1282.1 1286.28,1303.1 1286.99,1293.7 1287.69,1291.7 1288.4,1273.3 1289.1,1293.2 1289.81,1272.2 1290.51,1291.7 1291.22,1274.1 1291.92,1307.9 1292.63,1267.8 1293.33,1299.8 1294.04,1295.2 1294.74,1266.8 1295.45,1283.7 1296.15,1302.2 1296.86,1298.8 1297.57,1268.1 1298.27,1280.6 1298.98,1273.4 1299.68,1275.1 1300.39,1279.3 1301.09,1306.6 1301.8,1287.8 1302.5,1283.8 1303.21,1282.6 1303.91,1293.6 1304.62,1293.9 1305.32,1276.2 1306.03,1302.4 1306.73,1274.4 1307.44,1283.2 1308.14,1291.2 1308.85,1305.1 1309.55,1282.5 1310.26,1289.4 1310.96,1300.6 1311.67,1293.1 1312.37,1298.7 1313.08,1297.7 1313.78,1289.1 1314.49,1293.2 1315.19,1296.4 1315.9,1286 1316.61,1303.9 1317.31,1264.4 1318.02,1276.2 1318.72,1302.2 1319.43,1291 1320.13,1279.2 1320.84,1290.4 1321.54,1298.2 1322.25,1280.1 1322.95,1294.7 1323.66,1284.9 1324.36,1285 1325.07,1285.5 1325.77,1298.5 1326.48,1274 1327.18,1282.3 1327.89,1293.6 1328.59,1272.9 1329.3,1268.9 1330,1292.6 1330.71,1286.3 1331.41,1284.7 1332.12,1287.9 1332.82,1275.6 1333.53,1318.3 1334.23,1275.5 1334.94,1281.5 1335.65,1270.7 1336.35,1281.7 1337.06,1303.1 1337.76,1286.5 1338.47,1292.8 1339.17,1281 1339.88,1306.2 1340.58,1288.1 1341.29,1272.6 1341.99,1294.8 1342.7,1282.2 1343.4,1293 1344.11,1287.8 1344.81,1289.2 1345.52,1287.8 1346.22,1276.3 1346.93,1269.8 1347.63,1297 1348.34,1284.8 1349.04,1289.4 1349.75,1281.2 1350.45,1264 1351.16,1272.3 1351.86,1301.6 1352.57,1277.7 1353.27,1282.1 1353.98,1270.2 1354.69,1280.5 1355.39,1282.2 1356.1,1283.8 1356.8,1285.5 1357.51,1279.3 1358.21,1280 1358.92,1286.1 1359.62,1289.8 1360.33,1284.7 1361.03,1305.4 1361.74,1288.5 1362.44,1288 1363.15,1279 1363.85,1297.5 1364.56,1275 1365.26,1268.4 1365.97,1275.5 1366.67,1293 1367.38,1273.6 1368.08,1300.5 1368.79,1286 1369.49,1269.6 1370.2,1283.7 1370.9,1305.8 1371.61,1276.8 1372.31,1271.8 1373.02,1291.9 1373.73,1300.6 1374.43,1297.4 1375.14,1282.6 1375.84,1288.3 1376.55,1289.8 1377.25,1299.1 1377.96,1309.8 1378.66,1285 1379.37,1300.5 1380.07,1282.4 1380.78,1292.7 1381.48,1275.9 1382.19,1277.8 1382.89,1290.8 1383.6,1276.3 1384.3,1296 1385.01,1280.2 1385.71,1287.1 1386.42,1285.3 1387.12,1282.5 1387.83,1287.7 1388.53,1298.1 1389.24,1320.4 1389.94,1273.2 1390.65,1289.5 1391.35,1284.3 1392.06,1276.2 1392.77,1289.4 1393.47,1276.5 1394.18,1285.4 1394.88,1299.8 1395.59,1264 1396.29,1288.9 1397,1291.1 1397.7,1275.7 1398.41,1292 1399.11,1290.1 1399.82,1282.4 1400.52,1299.5 1401.23,1271.8 1401.93,1293.3 1402.64,1283.6 1403.34,1274.6 1404.05,1284.3 1404.75,1282.4 1405.46,1295.2 1406.16,1269.8 1406.87,1284.1 1407.57,1281.2 1408.28,1303.5 1408.98,1273.9 1409.69,1297.9 1410.39,1266.9 1411.1,1290 1411.81,1284.7 1412.51,1290.3 1413.22,1278.4 1413.92,1264.7 1414.63,1269.2 1415.33,1300.6 1416.04,1288.5 1416.74,1276.6 1417.45,1296 1418.15,1277.9 1418.86,1278 1419.56,1272.7 1420.27,1299 1420.97,1307.7 1421.68,1275.5 1422.38,1289.2 1423.09,1296.8 1423.79,1309.3 1424.5,1259.7 1425.2,1287.6 1425.91,1293.1 1426.61,1269.7 1427.32,1290.5 1428.02,1288.2 1428.73,1293.9 1429.43,1279.6 1430.14,1290.6 1430.85,1279.3 1431.55,1292.6 1432.26,1287.7 1432.96,1281.8 1433.67,1270.4 1434.37,1304.1 1435.08,1298.2 1435.78,1295.6 1436.49,1278.6 1437.19,1282.1 1437.9,1304.3 1438.6,1294.1 1439.31,1276.6 1440.01,1286.5 1440.72,1287.5 1441.42,1283.8 1442.13,1275.6 1442.83,1299.8 1443.54,1292.5 1444.24,1283.8 1444.95,1268.7 1445.65,1279.6 1446.36,1286 1447.06,1295.6 1447.77,1282 1448.47,1298.2 1449.18,1287.6 1449.89,1277.9 1450.59,1255.4 1451.3,1273.2 1452,1269.7 1452.71,1284.4 1453.41,1289.8 1454.12,1301.4 1454.82,1286 1455.53,1273.4 1456.23,1312 1456.94,1289.6 1457.64,1283.3 1458.35,1283.3 1459.05,1271.3 1459.76,1293.2 1460.46,1290.3 1461.17,1303.7 1461.87,1298.3 1462.58,1295.8 1463.28,1300.1 1463.99,1283.1 1464.69,1281.4 1465.4,1285.7 1466.1,1272.6 1466.81,1284.7 1467.51,1282.7 1468.22,1293.7 1468.93,1286.1 1469.63,1265.3 1470.34,1286.7 1471.04,1301.9 1471.75,1266.2 1472.45,1278 1473.16,1286.6 1473.86,1271.8 1474.57,1280.3 1475.27,1287 1475.98,1271.9 1476.68,1289.7 1477.39,1290.9 1478.09,1272.5 1478.8,1286.7 1479.5,1298.3 1480.21,1284.5 1480.91,1291.3 1481.62,1293.6 1482.32,1283.9 1483.03,1297.3 1483.73,1290.7 1484.44,1275.6 1485.14,1292.3 1485.85,1296.1 1486.55,1295.4 1487.26,1279.5 1487.97,1291.6 1488.67,1301.7 1489.38,1289.1 1490.08,1299.6 1490.79,1300.9 1491.49,1286.2 1492.2,1293.9 1492.9,1283.5 1493.61,1298.4 1494.31,1285.7 1495.02,1280.6 1495.72,1286.4 1496.43,1285.9 1497.13,1290.9 1497.84,1291.8 1498.54,1273.9 1499.25,1279.6 1499.95,1290.7 1500.66,1292 1501.36,1287.7 1502.07,1315.7 1502.77,1299.1 1503.48,1286 1504.18,1294.8 1504.89,1301.6 1505.59,1290.9 1506.3,1267.7 1507.01,1287.9 1507.71,1287.5 1508.42,1310.4 1509.12,1266.7 1509.83,1304 1510.53,1285.2 1511.24,1297.2 1511.94,1283.8 1512.65,1288.9 1513.35,1299.5 1514.06,1288 1514.76,1298.6 1515.47,1286.2 1516.17,1282.6 1516.88,1284.7 1517.58,1281.5 1518.29,1285.8 1518.99,1302.1 1519.7,1274.2 1520.4,1268.8 1521.11,1286.9 1521.81,1305.7 1522.52,1298.7 1523.22,1301.7 1523.93,1300.9 1524.63,1279.1 1525.34,1288.5 1526.05,1257.9 1526.75,1280.5 1527.46,1293.9 1528.16,1270.1 1528.87,1264.6 1529.57,1272.9 1530.28,1289.7 1530.98,1300.1 1531.69,1315.7 1532.39,1303 1533.1,1270.6 1533.8,1261.8 1534.51,1289 1535.21,1299 1535.92,1269.6 1536.62,1281.7 1537.33,1282.5 1538.03,1287.8 1538.74,1285.5 1539.44,1293.2 1540.15,1299.2 1540.85,1288.4 1541.56,1295.8 1542.26,1309.5 1542.97,1276.4 1543.67,1276.1 1544.38,1293.3 1545.09,1308.1 1545.79,1289.5 1546.5,1299.7 1547.2,1284.3 1547.91,1297.8 1548.61,1280.9 1549.32,1295.2 1550.02,1292.2 1550.73,1292.2 1551.43,1303 1552.14,1299.6 1552.84,1281.3 1553.55,1297.7 1554.25,1269.3 1554.96,1298.9 1555.66,1318.3 1556.37,1293.9 1557.07,1293.7 1557.78,1288.8 1558.48,1297.3 1559.19,1283.2 1559.89,1295.6 1560.6,1285.2 1561.3,1283.6 1562.01,1289.6 1562.71,1287.6 1563.42,1269.2 1564.13,1311.2 1564.83,1289.9 1565.54,1269.7 1566.24,1300.2 1566.95,1288 1567.65,1290.6 1568.36,1296.1 1569.06,1278.5 1569.77,1256 1570.47,1287.3 1571.18,1291 1571.88,1299.4 1572.59,1280.1 1573.29,1285.4 1574,1292.8 1574.7,1284.9 1575.41,1285.6 1576.11,1291.2 1576.82,1277.4 1577.52,1305.8 1578.23,1278.2 1578.93,1288.8 1579.64,1284.7 1580.34,1280.6 1581.05,1294.3 1581.75,1299.5 1582.46,1304.4 1583.17,1294.8 1583.87,1283.4 1584.58,1297.8 1585.28,1272.5 1585.99,1288.9 1586.69,1294.1 1587.4,1294.5 1588.1,1275.6 1588.81,1271.8 1589.51,1306.5 1590.22,1282.6 1590.92,1270.1 1591.63,1274.6 1592.33,1288.3 1593.04,1301.2 1593.74,1288.1 1594.45,1301.3 1595.15,1290.6 1595.86,1293.3 1596.56,1298.9 1597.27,1283.9 1597.97,1291.3 1598.68,1283.8 1599.38,1281 1600.09,1295.2 1600.79,1279 1601.5,1288.9 1602.21,1279.3 1602.91,1287 1603.62,1282.1 1604.32,1299.9 1605.03,1288.8 1605.73,1288.7 1606.44,1306 1607.14,1256 1607.85,1275.5 1608.55,1257.6 1609.26,1287.6 1609.96,1292.5 1610.67,1294.7 1611.37,1290.5 1612.08,1278 1612.78,1306.8 1613.49,1290.9 1614.19,1284.6 1614.9,1275.2 1615.6,1292.1 1616.31,1282 1617.01,1282.5 1617.72,1289.7 1618.42,1289.8 1619.13,1278.4 1619.83,1301.2 1620.54,1276.3 1621.25,1275.1 1621.95,1290.7 1622.66,1288.7 1623.36,1288.1 1624.07,1282.8 1624.77,1287.7 1625.48,1281.1 1626.18,1269.1 1626.89,1295.3 1627.59,1276.1 1628.3,1284.7 1629,1295.3 1629.71,1287.5 1630.41,1317.4 1631.12,1271.8 1631.82,1279 1632.53,1288.2 1633.23,1302.1 1633.94,1284.5 1634.64,1271.4 1635.35,1299.8 1636.05,1277 1636.76,1285 1637.46,1296.9 1638.17,1279.8 1638.87,1282.2 1639.58,1292.5 1640.29,1284.9 1640.99,1290.3 1641.7,1276.7 1642.4,1285.8 1643.11,1275.1 1643.81,1270 1644.52,1306.4 1645.22,1292.1 1645.93,1297.2 1646.63,1276.4 1647.34,1286.8 1648.04,1284.8 1648.75,1271.4 1649.45,1293.1 1650.16,1279.1 1650.86,1284.8 1651.57,1270.4 1652.27,1298 1652.98,1295.4 1653.68,1291.4 1654.39,1277 1655.09,1281.1 1655.8,1300.5 1656.5,1284 1657.21,1290 1657.91,1288.6 1658.62,1274.7 1659.33,1303.8 1660.03,1265.2 1660.74,1289.5 1661.44,1286.1 1662.15,1269.2 1662.85,1290.7 1663.56,1292.8 1664.26,1287.6 1664.97,1277.9 1665.67,1292 1666.38,1299.3 1667.08,1289.5 1667.79,1306 1668.49,1296.5 1669.2,1295.5 1669.9,1302.3 1670.61,1279.8 1671.31,1281.3 1672.02,1292.7 1672.72,1292.8 1673.43,1303.7 1674.13,1299.7 1674.84,1289 1675.54,1289.5 1676.25,1284.1 1676.95,1283.1 1677.66,1282.1 1678.37,1297.1 1679.07,1282 1679.78,1283.2 1680.48,1288.9 1681.19,1281.5 1681.89,1284.7 1682.6,1263.2 1683.3,1291.3 1684.01,1283.9 1684.71,1289.4 1685.42,1291.4 1686.12,1266.9 1686.83,1313.8 1687.53,1289.2 1688.24,1289.5 1688.94,1268 1689.65,1294.6 1690.35,1292.4 1691.06,1284 1691.76,1290.8 1692.47,1302.3 1693.17,1284.6 1693.88,1278.4 1694.58,1303.1 1695.29,1291.4 1695.99,1286.6 1696.7,1313.9 1697.41,1290.3 1698.11,1286.7 1698.82,1291.5 1699.52,1284.2 1700.23,1291 1700.93,1290.2 1701.64,1281.4 1702.34,1285.7 1703.05,1292 1703.75,1292.7 1704.46,1294.9 1705.16,1297.1 1705.87,1291.2 1706.57,1294.2 1707.28,1284.3 1707.98,1285.6 1708.69,1299.8 1709.39,1266.7 1710.1,1292.4 1710.8,1321 1711.51,1267.9 1712.21,1304.7 1712.92,1268.9 1713.62,1292.1 1714.33,1305.9 1715.03,1304.4 1715.74,1278 1716.45,1273.6 1717.15,1272 1717.86,1295.7 1718.56,1283.4 1719.27,1287.8 1719.97,1290.5 1720.68,1292.2 1721.38,1293.5 1722.09,1289 1722.79,1269.9 1723.5,1303.6 1724.2,1257.3 1724.91,1301.1 1725.61,1280.9 1726.32,1285.3 1727.02,1281.7 1727.73,1283.4 1728.43,1287.2 1729.14,1284.4 1729.84,1275.4 1730.55,1296.8 1731.25,1281.1 1731.96,1302.2 1732.66,1285.7 1733.37,1279.7 1734.07,1292.2 1734.78,1297.2 1735.49,1277.3 1736.19,1284.3 1736.9,1303.1 1737.6,1276.4 1738.31,1278.1 1739.01,1289.2 1739.72,1274 1740.42,1260.3 1741.13,1269.1 1741.83,1291.5 1742.54,1294.6 1743.24,1293.9 1743.95,1291.7 1744.65,1273.8 1745.36,1294.9 1746.06,1300.1 1746.77,1279.7 1747.47,1297.8 1748.18,1283.4 1748.88,1289.5 1749.59,1291.5 1750.29,1271.1 1751,1303.5 1751.7,1278 1752.41,1286.3 1753.11,1282 1753.82,1292.5 1754.53,1292.2 1755.23,1287.7 1755.94,1303 1756.64,1290.6 1757.35,1283.1 1758.05,1255.8 1758.76,1284.3 1759.46,1284.3 1760.17,1277.9 1760.87,1278 1761.58,1294 1762.28,1298.9 1762.99,1308.3 1763.69,1300 1764.4,1279.7 1765.1,1290.3 1765.81,1272.5 1766.51,1295.5 1767.22,1291.4 1767.92,1280.7 1768.63,1286.3 1769.33,1284.7 1770.04,1280.5 1770.74,1302 1771.45,1321 1772.15,1296.5 1772.86,1299.1 1773.57,1289.2 1774.27,1283.6 1774.98,1311.6 1775.68,1283.4 1776.39,1291.8 1777.09,1286.2 1777.8,1294 1778.5,1286.9 1779.21,1294 1779.91,1273.5 1780.62,1286.4 1781.32,1302.5 1782.03,1276.1 1782.73,1280.1 1783.44,1302.5 1784.14,1291.9 1784.85,1299.2 1785.55,1262.9 1786.26,1289.1 1786.96,1273.4 1787.67,1272.1 1788.37,1292 1789.08,1300.5 1789.78,1271 1790.49,1275.3 1791.19,1281 1791.9,1286 1792.61,1272.8 1793.31,1312.3 1794.02,1293.9 1794.72,1283.4 1795.43,1281.7 1796.13,1313 1796.84,1312.1 1797.54,1282 1798.25,1291.2 1798.95,1301.3 1799.66,1274.3 1800.36,1280.9 1801.07,1302.3 1801.77,1279.7 1802.48,1282.6 1803.18,1272.5 1803.89,1278.9 1804.59,1294.9 1805.3,1278.2 1806,1272.9 1806.71,1280.3 1807.41,1306.8 1808.12,1289.2 1808.82,1281 1809.53,1288.9 1810.23,1292.1 1810.94,1288.5 1811.65,1267.2 1812.35,1290.5 1813.06,1284.8 1813.76,1296.5 1814.47,1272.2 1815.17,1298.7 1815.88,1281.6 1816.58,1268.2 1817.29,1301.8 1817.99,1281.4 1818.7,1291.2 1819.4,1285.3 1820.11,1299.2 1820.81,1299.3 1821.52,1299.4 1822.22,1295 1822.93,1269.2 1823.63,1268.4 1824.34,1289.2 1825.04,1276.5 1825.75,1292.2 1826.45,1288.8 1827.16,1271.3 1827.86,1275.5 1828.57,1274.4 1829.27,1277.1 1829.98,1284.7 1830.69,1294.5 1831.39,1301.8 1832.1,1276.2 1832.8,1280.7 1833.51,1304.2 1834.21,1296.9 1834.92,1289.6 1835.62,1260.9 1836.33,1275.8 1837.03,1288.7 1837.74,1280.4 1838.44,1309.1 1839.15,1288 1839.85,1290.1 1840.56,1274.8 1841.26,1275.4 1841.97,1279.6 1842.67,1280 1843.38,1284.4 1844.08,1291.1 1844.79,1289.6 1845.49,1298.1 1846.2,1271.9 1846.9,1289.3 1847.61,1289.6 1848.31,1304.6 1849.02,1284.5 1849.73,1290.6 1850.43,1277.9 1851.14,1291.7 1851.84,1291.4 1852.55,1280 1853.25,1282.1 1853.96,1286.6 1854.66,1293.4 1855.37,1274.2 1856.07,1296.8 1856.78,1283.3 1857.48,1308.1 1858.19,1303.2 1858.89,1282.5 1859.6,1280 1860.3,1314.3 1861.01,1294 1861.71,1293.3 1862.42,1282.3 1863.12,1285.5 1863.83,1295.9 1864.53,1293.8 1865.24,1277.8 1865.94,1300.8 1866.65,1290.4 1867.35,1276.4 1868.06,1298 1868.77,1285 1869.47,1295.7 1870.18,1280.8 1870.88,1291 1871.59,1268.9 1872.29,1291.1 1873,1270.1 1873.7,1288.8 1874.41,1258.8 1875.11,1286.3 1875.82,1295 1876.52,1292.4 1877.23,1300.3 1877.93,1275.1 1878.64,1304.4 1879.34,1304.8 1880.05,1273.6 1880.75,1278.1 1881.46,1280.6 1882.16,1286.7 1882.87,1289 1883.57,1259.6 1884.28,1293.6 1884.98,1284.1 1885.69,1275.7 1886.39,1297.5 1887.1,1283.1 1887.81,1299.6 1888.51,1292.9 1889.22,1283.4 1889.92,1300 1890.63,1295.9 1891.33,1281.3 1892.04,1269.1 1892.74,1280.9 1893.45,1293.8 1894.15,1284.3 1894.86,1306.5 1895.56,1289.8 1896.27,1289.1 1896.97,1291.4 1897.68,1277.1 1898.38,1285.6 1899.09,1279.6 1899.79,1260.9 1900.5,1267.2 1901.2,1295.1 1901.91,1282 1902.61,1285.6 1903.32,1270.5 1904.02,1280.4 1904.73,1295.6 1905.43,1288 1906.14,1281.2 1906.85,1303.9 1907.55,1286.3 1908.26,1283.1 1908.96,1299.6 1909.67,1267.7 1910.37,1293.1 1911.08,1274.6 1911.78,1278.2 1912.49,1279.4 1913.19,1288.4 1913.9,1288.1 1914.6,1290.3 1915.31,1289.3 1916.01,1302.5 1916.72,1305.7 1917.42,1294.8 1918.13,1295.3 1918.83,1282.8 1919.54,1274.8 1920.24,1293.5 1920.95,1287.3 1921.65,1296.5 1922.36,1266.7 1923.06,1316.6 1923.77,1272.9 1924.47,1287.3 1925.18,1297.9 1925.89,1271.6 1926.59,1280.8 1927.3,1264.6 1928,1271.1 1928.71,1265.5 1929.41,1288.1 1930.12,1290.2 1930.82,1283.5 1931.53,1301 1932.23,1302.4 1932.94,1286.9 1933.64,1284.5 1934.35,1283.9 1935.05,1282 1935.76,1301.5 1936.46,1289.6 1937.17,1283.3 1937.87,1284.5 1938.58,1293 1939.28,1282.6 1939.99,1290.5 1940.69,1286.6 1941.4,1302 1942.1,1299.8 1942.81,1271.3 1943.51,1285.2 1944.22,1294.9 1944.93,1282 1945.63,1296 1946.34,1290.7 1947.04,1293.6 1947.75,1286.3 1948.45,1290.4 1949.16,1292.8 1949.86,1270.7 1950.57,1276.9 1951.27,1275.7 1951.98,1305.7 1952.68,1290.4 1953.39,1291.2 1954.09,1288.9 1954.8,1281.3 1955.5,1278.8 1956.21,1296.4 1956.91,1282.9 1957.62,1304.5 1958.32,1289.2 1959.03,1288.1 1959.73,1284.6 1960.44,1286.2 1961.14,1287.4 1961.85,1303.9 1962.55,1312.9 1963.26,1274.3 1963.97,1289.9 1964.67,1294.9 1965.38,1277.1 1966.08,1280.1 1966.79,1282 1967.49,1260.5 1968.2,1294.3 1968.9,1286.6 1969.61,1286.1 1970.31,1288 1971.02,1289.8 1971.72,1312.7 1972.43,1289.1 1973.13,1296.3 1973.84,1281.4 1974.54,1291 1975.25,1283.6 1975.95,1285.5 1976.66,1277.1 1977.36,1278.1 1978.07,1292.2 1978.77,1295.4 1979.48,1292.2 1980.18,1279.7 1980.89,1290.6 1981.59,1259.1 1982.3,1297.6 1983.01,1286.7 1983.71,1290.1 1984.42,1300 1985.12,1282.5 1985.83,1297.8 1986.53,1282.3 1987.24,1293.2 1987.94,1282.7 1988.65,1290.6 1989.35,1303.2 1990.06,1280 1990.76,1280.5 1991.47,1283.6 1992.17,1290.6 1992.88,1317.6 1993.58,1280.9 1994.29,1264.7 1994.99,1280.1 1995.7,1269.8 1996.4,1281.1 1997.11,1287.5 1997.81,1276.7 1998.52,1279.8 1999.22,1266.7 1999.93,1289.3 2000.63,1279.1 2001.34,1299.3 2002.05,1298.9 2002.75,1277.7 2003.46,1283.3 2004.16,1287.9 2004.87,1295.7 2005.57,1268.9 2006.28,1286.6 2006.98,1307.9 2007.69,1286.4 2008.39,1289.8 2009.1,1287.4 2009.8,1274.3 2010.51,1297.9 2011.21,1290.4 2011.92,1289.2 2012.62,1295.5 2013.33,1296.1 2014.03,1266.6 2014.74,1292.8 2015.44,1281 2016.15,1289.2 2016.85,1279.6 2017.56,1277.9 2018.26,1298 2018.97,1287.4 2019.67,1284.4 2020.38,1284.3 2021.09,1288.4 2021.79,1287.4 2022.5,1261.5 2023.2,1278 2023.91,1285 2024.61,1295.8 2025.32,1302.6 2026.02,1277.3 2026.73,1309 2027.43,1288.7 2028.14,1293.1 2028.84,1281.8 2029.55,1281.1 2030.25,1303.6 2030.96,1285.4 2031.66,1286.7 2032.37,1300.6 2033.07,1306.8 2033.78,1271.3 2034.48,1285.8 2035.19,1287.7 2035.89,1307.9 2036.6,1315.1 2037.3,1287.4 2038.01,1292 2038.71,1297.5 2039.42,1300.7 2040.13,1284.5 2040.83,1297.4 2041.54,1280.3 2042.24,1258.5 2042.95,1272.8 2043.65,1290.4 2044.36,1296.7 2045.06,1263.2 2045.77,1268.2 2046.47,1287.8 2047.18,1253 2047.88,1294.3 2048.59,1299.6 2049.29,1255.4 2050,1296.7 2050.7,1286.1 2051.41,1303.9 2052.11,1291.4 2052.82,1285.7 2053.52,1289.7 2054.23,1298.7 2054.93,1290.5 2055.64,1288.9 2056.34,1272.5 2057.05,1293.8 2057.75,1288.8 2058.46,1308.8 2059.17,1288.4 2059.87,1287.5 2060.58,1281.6 2061.28,1296.5 2061.99,1286.3 2062.69,1280.8 2063.4,1306.2 2064.1,1308.2 2064.81,1283.6 2065.51,1277.3 2066.22,1301 2066.92,1279.4 2067.63,1319.8 2068.33,1287.1 2069.04,1299.2 2069.74,1274.3 2070.45,1288.2 2071.15,1300.7 2071.86,1293.5 2072.56,1282.7 2073.27,1315.7 2073.97,1296.8 2074.68,1286.1 2075.38,1282 2076.09,1285.7 2076.79,1303.6 2077.5,1280.2"/>
</g>
<g stroke="#000" stroke-width="11" stroke-linecap="round" shape-rendering="crispEdges"><line x1="253.5" y1="1090.5" x2="253.5" y2="1142.5"/><line x1="669.7" y1="1090.5" x2="669.7" y2="1142.5"/><line x1="858.7" y1="1090.5" x2="858.7" y2="1142.5"/><line x1="915.5" y1="1090.5" x2="915.5" y2="1142.5"/><line x1="1127.2" y1="1090.5" x2="1127.2" y2="1142.5"/><line x1="1494.1" y1="1090.5" x2="1494.1" y2="1142.5"/><line x1="1618.1" y1="1090.5" x2="1618.1" y2="1142.5"/><line x1="1814.9" y1="1090.5" x2="1814.9" y2="1142.5"/></g>
<g stroke="#000" stroke-width="4.6"><line x1="314.5" y1="1443" x2="314.5" y2="1412.5"/><line x1="490.8" y1="1443" x2="490.8" y2="1426.5"/><line x1="667.1" y1="1443" x2="667.1" y2="1412.5"/><line x1="843.4" y1="1443" x2="843.4" y2="1426.5"/><line x1="1019.7" y1="1443" x2="1019.7" y2="1412.5"/><line x1="1196" y1="1443" x2="1196" y2="1426.5"/><line x1="1372.3" y1="1443" x2="1372.3" y2="1412.5"/><line x1="1548.6" y1="1443" x2="1548.6" y2="1426.5"/><line x1="1724.9" y1="1443" x2="1724.9" y2="1412.5"/><line x1="1901.2" y1="1443" x2="1901.2" y2="1426.5"/><line x1="2077.5" y1="1443" x2="2077.5" y2="1412.5"/></g>
<rect x="173.5" y="43.5" width="1904" height="1399.5" fill="none" stroke="#000" stroke-width="5"/>
<g font-size="76" text-anchor="middle"><text x="313" y="1532">20</text><text x="665.6" y="1532">30</text><text x="1018.2" y="1532">40</text><text x="1370.8" y="1532">50</text><text x="1723.4" y="1532">60</text><text x="2076" y="1532">70</text></g>
<g font-size="71" text-anchor="middle"><text transform="translate(282 751.9) rotate(-90)">(111)</text><text transform="translate(694 594) rotate(-90)">(220)</text><text transform="translate(941 154.5) rotate(-90)">(311)</text><text transform="translate(948 714.8) rotate(-90)">(222)</text><text transform="translate(1138 606.9) rotate(-90)">(400)</text><text transform="translate(1514 709.9) rotate(-90)">(422)</text><text transform="translate(1638 583) rotate(-90)">(511)</text><text transform="translate(1903 632.8) rotate(-90)">(440)</text></g>
<text x="475.3" y="889.5" font-size="60" text-anchor="middle">*</text>
<text transform="translate(198.8 140.5) scale(0.995 1.05)" x="0" y="0" font-size="71">Cu<tspan font-size="40.5" dy="25.2">0.75</tspan><tspan dy="-25.2">Co</tspan><tspan font-size="40.5" dy="25.2">0.25</tspan><tspan dy="-25.2">Fe</tspan><tspan font-size="40.5" dy="25.2">2</tspan><tspan dy="-25.2">O</tspan><tspan font-size="40.5" dy="25.2">4</tspan></text>
<g font-size="70">
<text x="1566" y="133.5">I-observed</text>
<text x="1566" y="219.1">I-calculated</text>
<text x="1566" y="303.4">Difference</text>
<text x="1566" y="388.3">Bragg positions</text>
</g>
<circle cx="1471" cy="110" r="7.6" fill="none" stroke="#000" stroke-width="4.6"/>
<line x1="1393.5" y1="194.5" x2="1548.5" y2="194.5" stroke="#ff0000" stroke-width="7.2" stroke-linecap="round"/>
<line x1="1393" y1="280" x2="1550" y2="280" stroke="#0000ff" stroke-width="2.2"/>
<line x1="1471" y1="340" x2="1471" y2="392" stroke="#000" stroke-width="10" stroke-linecap="round"/>
<text transform="translate(90 1056.5) rotate(-90)" font-size="89" font-weight="bold">Intensity (a.u)</text>
<g font-size="87">
<text x="828" y="1668" font-weight="bold">2</text>
<text transform="translate(876 1668) scale(1.09 0.915)" font-family="Liberation Serif,serif" style="font-family:'Liberation Serif',serif">θ</text>
<text x="945.3" y="1668" font-weight="bold">(degree)</text>
</g>
</svg>
</body></html>
